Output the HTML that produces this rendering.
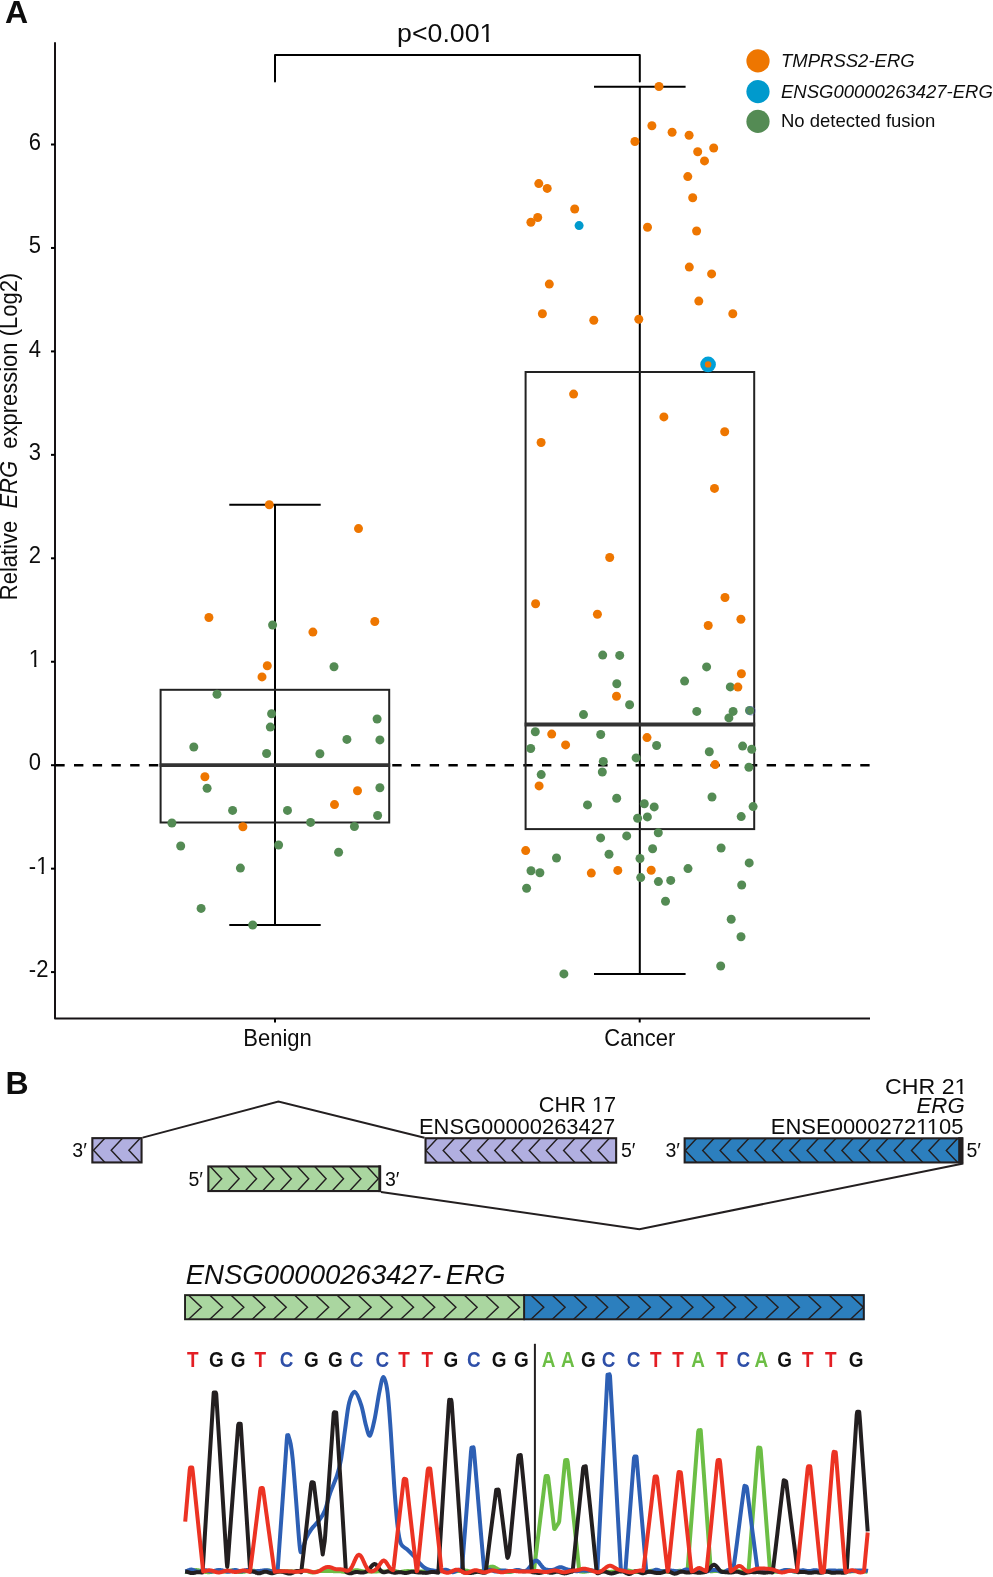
<!DOCTYPE html>
<html><head><meta charset="utf-8"><title>ERG expression figure</title>
<style>
html,body{margin:0;padding:0;background:#fff;}
body{width:993px;height:1577px;overflow:hidden;}
svg{display:block;will-change:transform;}
text{font-family:"Liberation Sans",sans-serif;}
</style></head>
<body>
<svg width="993" height="1577" viewBox="0 0 993 1577" fill="#0d0d0d">
<text x="5" y="22.8" font-size="32" font-weight="bold">A</text>
<path d="M55,42.3 V1018.4 H870" fill="none" stroke="#161214" stroke-width="2" stroke-linejoin="round"/>
<line x1="51" y1="972.10" x2="55" y2="972.10" stroke="#000" stroke-width="2"/>
<g transform="translate(28.8,977.20) scale(0.95,1)"><text id="tick-2" font-size="23.2">-2</text></g>
<line x1="51" y1="868.65" x2="55" y2="868.65" stroke="#000" stroke-width="2"/>
<g transform="translate(28.8,873.75) scale(0.95,1)"><text id="tick-1" font-size="23.2">-1</text><rect x="8.50" y="-2.18" width="4.91" height="3.38" fill="#fff"/><rect x="15.73" y="-2.18" width="4.44" height="3.38" fill="#fff"/></g>
<line x1="51" y1="765.20" x2="55" y2="765.20" stroke="#000" stroke-width="2"/>
<g transform="translate(28.8,770.30) scale(0.95,1)"><text id="tick0" font-size="23.2">0</text></g>
<line x1="51" y1="661.75" x2="55" y2="661.75" stroke="#000" stroke-width="2"/>
<g transform="translate(28.8,666.85) scale(0.95,1)"><text id="tick1" font-size="23.2">1</text><rect x="0.79" y="-2.18" width="4.90" height="3.38" fill="#fff"/><rect x="8.02" y="-2.18" width="4.44" height="3.38" fill="#fff"/></g>
<line x1="51" y1="558.30" x2="55" y2="558.30" stroke="#000" stroke-width="2"/>
<g transform="translate(28.8,563.40) scale(0.95,1)"><text id="tick2" font-size="23.2">2</text></g>
<line x1="51" y1="454.85" x2="55" y2="454.85" stroke="#000" stroke-width="2"/>
<g transform="translate(28.8,459.95) scale(0.95,1)"><text id="tick3" font-size="23.2">3</text></g>
<line x1="51" y1="351.40" x2="55" y2="351.40" stroke="#000" stroke-width="2"/>
<g transform="translate(28.8,356.50) scale(0.95,1)"><text id="tick4" font-size="23.2">4</text></g>
<line x1="51" y1="247.95" x2="55" y2="247.95" stroke="#000" stroke-width="2"/>
<g transform="translate(28.8,253.05) scale(0.95,1)"><text id="tick5" font-size="23.2">5</text></g>
<line x1="51" y1="144.50" x2="55" y2="144.50" stroke="#000" stroke-width="2"/>
<g transform="translate(28.8,149.60) scale(0.95,1)"><text id="tick6" font-size="23.2">6</text></g>
<line x1="275" y1="1018.5" x2="275" y2="1022.5" stroke="#000" stroke-width="2"/>
<line x1="639.7" y1="1018.5" x2="639.7" y2="1022.5" stroke="#000" stroke-width="2"/>
<text transform="translate(277.5,1045.8) scale(0.95,1)" font-size="23.2" text-anchor="middle">Benign</text>
<text transform="translate(639.8,1045.8) scale(0.95,1)" font-size="23.2" text-anchor="middle">Cancer</text>
<text transform="translate(16.7,436.5) rotate(-90) scale(0.94,1)" font-size="23.4" text-anchor="middle" xml:space="preserve">Relative  <tspan font-style="italic">ERG</tspan>  expression (Log2)</text>
<path d="M275,81.4 V54.9 H639.8 V81.4" fill="none" stroke="#000" stroke-width="2" stroke-linejoin="round" stroke-linecap="round"/>
<text id="pval" x="397.08" y="42.3" font-size="26.3" textLength="97.31" lengthAdjust="spacingAndGlyphs">p&lt;0.001</text><rect x="480.43" y="39.89" width="5.65" height="3.61" fill="#fff"/><rect x="488.76" y="39.89" width="5.12" height="3.61" fill="#fff"/>
<circle cx="758" cy="60.9" r="11.6" fill="#EE7600"/>
<text x="781" y="66.9" font-size="18.5" font-style="italic">TMPRSS2-ERG</text>
<circle cx="758" cy="91.6" r="11.6" fill="#009ACD"/>
<text x="781" y="97.6" font-size="18.5" font-style="italic">ENSG00000263427-ERG</text>
<circle cx="758" cy="121.4" r="11.6" fill="#548B54"/>
<text x="781" y="127.4" font-size="18.5">No detected fusion</text>
<line x1="55.3" y1="765.3" x2="870" y2="765.3" stroke="#000" stroke-width="2.4" stroke-dasharray="9.36 9.36"/>
<line x1="275" y1="504.7" x2="275" y2="925" stroke="#000" stroke-width="2"/>
<line x1="229.3" y1="504.7" x2="320.7" y2="504.7" stroke="#000" stroke-width="2"/>
<line x1="229.3" y1="925" x2="320.7" y2="925" stroke="#000" stroke-width="2"/>
<rect x="160.6" y="689.8" width="228.6" height="132.70000000000005" fill="none" stroke="#222" stroke-width="2"/>
<line x1="159.6" y1="765.1" x2="390.2" y2="765.1" stroke="#333" stroke-width="3.6"/>
<line x1="639.8" y1="86.8" x2="639.8" y2="973.9" stroke="#000" stroke-width="2"/>
<line x1="594" y1="86.8" x2="685.6" y2="86.8" stroke="#000" stroke-width="2"/>
<line x1="594" y1="973.9" x2="685.6" y2="973.9" stroke="#000" stroke-width="2"/>
<rect x="525.6" y="372" width="228.60000000000002" height="457.1" fill="none" stroke="#222" stroke-width="2"/>
<line x1="524.6" y1="724.6" x2="755.2" y2="724.6" stroke="#333" stroke-width="4"/>
<circle cx="272.6" cy="625" r="4.5" fill="#548B54"/>
<circle cx="334" cy="666.8" r="4.5" fill="#548B54"/>
<circle cx="217" cy="694.3" r="4.5" fill="#548B54"/>
<circle cx="271.6" cy="713.7" r="4.5" fill="#548B54"/>
<circle cx="270.3" cy="727.1" r="4.5" fill="#548B54"/>
<circle cx="193.8" cy="747" r="4.5" fill="#548B54"/>
<circle cx="266.6" cy="753.5" r="4.5" fill="#548B54"/>
<circle cx="319.9" cy="753.8" r="4.5" fill="#548B54"/>
<circle cx="346.9" cy="739.4" r="4.5" fill="#548B54"/>
<circle cx="377.1" cy="719" r="4.5" fill="#548B54"/>
<circle cx="379.9" cy="739.9" r="4.5" fill="#548B54"/>
<circle cx="207.1" cy="788.3" r="4.5" fill="#548B54"/>
<circle cx="232.6" cy="810.4" r="4.5" fill="#548B54"/>
<circle cx="171.9" cy="823" r="4.5" fill="#548B54"/>
<circle cx="287.5" cy="810.4" r="4.5" fill="#548B54"/>
<circle cx="379.9" cy="787.8" r="4.5" fill="#548B54"/>
<circle cx="377.6" cy="815.5" r="4.5" fill="#548B54"/>
<circle cx="310.6" cy="822.4" r="4.5" fill="#548B54"/>
<circle cx="354.4" cy="826.5" r="4.5" fill="#548B54"/>
<circle cx="180.7" cy="846" r="4.5" fill="#548B54"/>
<circle cx="278.6" cy="845" r="4.5" fill="#548B54"/>
<circle cx="338.6" cy="852.3" r="4.5" fill="#548B54"/>
<circle cx="240.4" cy="868.1" r="4.5" fill="#548B54"/>
<circle cx="201.1" cy="908.4" r="4.5" fill="#548B54"/>
<circle cx="252.7" cy="925" r="4.5" fill="#548B54"/>
<circle cx="602.7" cy="655.1" r="4.5" fill="#548B54"/>
<circle cx="619.7" cy="655.4" r="4.5" fill="#548B54"/>
<circle cx="706.6" cy="666.9" r="4.5" fill="#548B54"/>
<circle cx="684.6" cy="681.1" r="4.5" fill="#548B54"/>
<circle cx="616.8" cy="683.7" r="4.5" fill="#548B54"/>
<circle cx="730.3" cy="686.9" r="4.5" fill="#548B54"/>
<circle cx="629.6" cy="704.8" r="4.5" fill="#548B54"/>
<circle cx="583.5" cy="714.6" r="4.5" fill="#548B54"/>
<circle cx="696.8" cy="711.4" r="4.5" fill="#548B54"/>
<circle cx="733.1" cy="711.4" r="4.5" fill="#548B54"/>
<circle cx="728.9" cy="717.9" r="4.5" fill="#548B54"/>
<circle cx="749.5" cy="710.5" r="4.5" fill="#548B54"/>
<circle cx="535.3" cy="731.7" r="4.5" fill="#548B54"/>
<circle cx="530.7" cy="748.5" r="4.5" fill="#548B54"/>
<circle cx="600.7" cy="734.5" r="4.5" fill="#548B54"/>
<circle cx="603.3" cy="761.4" r="4.5" fill="#548B54"/>
<circle cx="636.1" cy="757.9" r="4.5" fill="#548B54"/>
<circle cx="656.6" cy="745.5" r="4.5" fill="#548B54"/>
<circle cx="709.3" cy="751.7" r="4.5" fill="#548B54"/>
<circle cx="742.6" cy="746.1" r="4.5" fill="#548B54"/>
<circle cx="751.7" cy="749.3" r="4.5" fill="#548B54"/>
<circle cx="748.9" cy="767.2" r="4.5" fill="#548B54"/>
<circle cx="602.3" cy="772" r="4.5" fill="#548B54"/>
<circle cx="541.2" cy="774.6" r="4.5" fill="#548B54"/>
<circle cx="616.7" cy="798.3" r="4.5" fill="#548B54"/>
<circle cx="587.5" cy="804.9" r="4.5" fill="#548B54"/>
<circle cx="637.6" cy="818.3" r="4.5" fill="#548B54"/>
<circle cx="600.6" cy="837.9" r="4.5" fill="#548B54"/>
<circle cx="626.7" cy="835.9" r="4.5" fill="#548B54"/>
<circle cx="556.5" cy="858" r="4.5" fill="#548B54"/>
<circle cx="609" cy="854.2" r="4.5" fill="#548B54"/>
<circle cx="640" cy="858.5" r="4.5" fill="#548B54"/>
<circle cx="531" cy="870.7" r="4.5" fill="#548B54"/>
<circle cx="539.9" cy="872.8" r="4.5" fill="#548B54"/>
<circle cx="712" cy="797" r="4.5" fill="#548B54"/>
<circle cx="644.3" cy="803.8" r="4.5" fill="#548B54"/>
<circle cx="654.2" cy="806.9" r="4.5" fill="#548B54"/>
<circle cx="647.4" cy="816.9" r="4.5" fill="#548B54"/>
<circle cx="753.1" cy="806.6" r="4.5" fill="#548B54"/>
<circle cx="741.2" cy="816.6" r="4.5" fill="#548B54"/>
<circle cx="658.3" cy="832.7" r="4.5" fill="#548B54"/>
<circle cx="652.6" cy="848.7" r="4.5" fill="#548B54"/>
<circle cx="721.1" cy="848" r="4.5" fill="#548B54"/>
<circle cx="749.2" cy="862.9" r="4.5" fill="#548B54"/>
<circle cx="688" cy="868.6" r="4.5" fill="#548B54"/>
<circle cx="640.7" cy="877.6" r="4.5" fill="#548B54"/>
<circle cx="526.6" cy="888.2" r="4.5" fill="#548B54"/>
<circle cx="563.9" cy="973.9" r="4.5" fill="#548B54"/>
<circle cx="658.4" cy="881.6" r="4.5" fill="#548B54"/>
<circle cx="670.7" cy="880.4" r="4.5" fill="#548B54"/>
<circle cx="741.7" cy="885" r="4.5" fill="#548B54"/>
<circle cx="665.5" cy="901.2" r="4.5" fill="#548B54"/>
<circle cx="731.2" cy="919.2" r="4.5" fill="#548B54"/>
<circle cx="741" cy="936.8" r="4.5" fill="#548B54"/>
<circle cx="720.7" cy="966" r="4.5" fill="#548B54"/>
<circle cx="269.3" cy="504.7" r="4.5" fill="#EE7600"/>
<circle cx="358.5" cy="528.6" r="4.5" fill="#EE7600"/>
<circle cx="208.9" cy="617.5" r="4.5" fill="#EE7600"/>
<circle cx="312.9" cy="632.1" r="4.5" fill="#EE7600"/>
<circle cx="374.8" cy="621.5" r="4.5" fill="#EE7600"/>
<circle cx="267.3" cy="665.8" r="4.5" fill="#EE7600"/>
<circle cx="262" cy="676.9" r="4.5" fill="#EE7600"/>
<circle cx="204.9" cy="776.7" r="4.5" fill="#EE7600"/>
<circle cx="334.5" cy="804.6" r="4.5" fill="#EE7600"/>
<circle cx="357.5" cy="790.8" r="4.5" fill="#EE7600"/>
<circle cx="242.9" cy="826.8" r="4.5" fill="#EE7600"/>
<circle cx="659" cy="86.5" r="4.5" fill="#EE7600"/>
<circle cx="651.9" cy="125.8" r="4.5" fill="#EE7600"/>
<circle cx="634.9" cy="141.5" r="4.5" fill="#EE7600"/>
<circle cx="672.1" cy="132.3" r="4.5" fill="#EE7600"/>
<circle cx="689.1" cy="135.2" r="4.5" fill="#EE7600"/>
<circle cx="697.7" cy="151.7" r="4.5" fill="#EE7600"/>
<circle cx="713.7" cy="148" r="4.5" fill="#EE7600"/>
<circle cx="704.5" cy="160.9" r="4.5" fill="#EE7600"/>
<circle cx="687.8" cy="176.6" r="4.5" fill="#EE7600"/>
<circle cx="692.7" cy="197.8" r="4.5" fill="#EE7600"/>
<circle cx="538.8" cy="183.6" r="4.5" fill="#EE7600"/>
<circle cx="547.2" cy="188.4" r="4.5" fill="#EE7600"/>
<circle cx="574.7" cy="209" r="4.5" fill="#EE7600"/>
<circle cx="537.7" cy="217.5" r="4.5" fill="#EE7600"/>
<circle cx="530.9" cy="222.2" r="4.5" fill="#EE7600"/>
<circle cx="647.5" cy="227.2" r="4.5" fill="#EE7600"/>
<circle cx="696.6" cy="231" r="4.5" fill="#EE7600"/>
<circle cx="689.3" cy="267.1" r="4.5" fill="#EE7600"/>
<circle cx="711.6" cy="273.9" r="4.5" fill="#EE7600"/>
<circle cx="549.3" cy="284.1" r="4.5" fill="#EE7600"/>
<circle cx="698.8" cy="301.1" r="4.5" fill="#EE7600"/>
<circle cx="542.4" cy="313.7" r="4.5" fill="#EE7600"/>
<circle cx="593.8" cy="320.3" r="4.5" fill="#EE7600"/>
<circle cx="638.8" cy="319.2" r="4.5" fill="#EE7600"/>
<circle cx="732.8" cy="313.7" r="4.5" fill="#EE7600"/>
<circle cx="573.6" cy="394.1" r="4.5" fill="#EE7600"/>
<circle cx="541.1" cy="442.5" r="4.5" fill="#EE7600"/>
<circle cx="663.9" cy="416.9" r="4.5" fill="#EE7600"/>
<circle cx="724.7" cy="431.8" r="4.5" fill="#EE7600"/>
<circle cx="714.5" cy="488.4" r="4.5" fill="#EE7600"/>
<circle cx="609.7" cy="557.5" r="4.5" fill="#EE7600"/>
<circle cx="535.6" cy="603.8" r="4.5" fill="#EE7600"/>
<circle cx="597.4" cy="614.3" r="4.5" fill="#EE7600"/>
<circle cx="725" cy="597.5" r="4.5" fill="#EE7600"/>
<circle cx="740.9" cy="619.3" r="4.5" fill="#EE7600"/>
<circle cx="708.2" cy="625.5" r="4.5" fill="#EE7600"/>
<circle cx="741.4" cy="673.7" r="4.5" fill="#EE7600"/>
<circle cx="737.9" cy="687.1" r="4.5" fill="#EE7600"/>
<circle cx="616.5" cy="696.2" r="4.5" fill="#EE7600"/>
<circle cx="551.7" cy="734.1" r="4.5" fill="#EE7600"/>
<circle cx="565.6" cy="744.9" r="4.5" fill="#EE7600"/>
<circle cx="647" cy="737.6" r="4.5" fill="#EE7600"/>
<circle cx="715.1" cy="764.6" r="4.5" fill="#EE7600"/>
<circle cx="539.1" cy="785.9" r="4.5" fill="#EE7600"/>
<circle cx="525.7" cy="850.6" r="4.5" fill="#EE7600"/>
<circle cx="591.3" cy="873.1" r="4.5" fill="#EE7600"/>
<circle cx="617.8" cy="870.4" r="4.5" fill="#EE7600"/>
<circle cx="651.2" cy="870.2" r="4.5" fill="#EE7600"/>
<circle cx="579.1" cy="225.6" r="4.5" fill="#009ACD"/>
<circle cx="708.1" cy="364.4" r="7.8" fill="#00A0D8"/>
<circle cx="708.1" cy="364.4" r="3.2" fill="#EE7600"/>
<circle cx="750.9" cy="710.8" r="4.3" fill="none" stroke="#4a62c0" stroke-width="0.7" opacity="0.7"/>
<text x="5.5" y="1093.7" font-size="32" font-weight="bold">B</text>
<polyline points="142.6,1137.6 278.4,1101.5 424.5,1137.8" fill="none" stroke="#231F20" stroke-width="2"/>
<polyline points="381,1192 639.4,1229.2 963.3,1163.4" fill="none" stroke="#231F20" stroke-width="2"/>
<rect x="92.35" y="1138.1499999999999" width="49.199999999999996" height="24.30000000000009" fill="#B1AFE0"/>
<clipPath id="c191"><rect x="92.35" y="1138.1499999999999" width="49.199999999999996" height="24.30000000000009"/></clipPath>
<path d="M106.80,1136.10 L93.50,1150.30 L106.80,1164.50 M124.50,1136.10 L111.20,1150.30 L124.50,1164.50 M142.20,1136.10 L128.90,1150.30 L142.20,1164.50 " fill="none" stroke="#231F20" stroke-width="1.45" clip-path="url(#c191)"/>
<rect x="92.35" y="1138.1499999999999" width="49.199999999999996" height="24.30000000000009" fill="none" stroke="#231F20" stroke-width="2.1"/>
<rect x="425.55" y="1138.25" width="190.60000000000005" height="24.4" fill="#B1AFE0"/>
<clipPath id="c195"><rect x="425.55" y="1138.25" width="190.60000000000005" height="24.4"/></clipPath>
<path d="M439.30,1136.20 L426.00,1150.45 L439.30,1164.70 M456.50,1136.20 L443.20,1150.45 L456.50,1164.70 M473.70,1136.20 L460.40,1150.45 L473.70,1164.70 M490.90,1136.20 L477.60,1150.45 L490.90,1164.70 M508.10,1136.20 L494.80,1150.45 L508.10,1164.70 M525.30,1136.20 L512.00,1150.45 L525.30,1164.70 M542.50,1136.20 L529.20,1150.45 L542.50,1164.70 M559.70,1136.20 L546.40,1150.45 L559.70,1164.70 M576.90,1136.20 L563.60,1150.45 L576.90,1164.70 M594.10,1136.20 L580.80,1150.45 L594.10,1164.70 M611.30,1136.20 L598.00,1150.45 L611.30,1164.70 " fill="none" stroke="#231F20" stroke-width="1.45" clip-path="url(#c195)"/>
<rect x="425.55" y="1138.25" width="190.60000000000005" height="24.4" fill="none" stroke="#231F20" stroke-width="2.1"/>
<rect x="208.35000000000002" y="1166.45" width="171.70000000000002" height="24.599999999999817" fill="#AAD6A0"/>
<clipPath id="c199"><rect x="208.35000000000002" y="1166.45" width="171.70000000000002" height="24.599999999999817"/></clipPath>
<path d="M208.40,1164.40 L221.70,1178.75 L208.40,1193.10 M225.80,1164.40 L239.10,1178.75 L225.80,1193.10 M243.20,1164.40 L256.50,1178.75 L243.20,1193.10 M260.60,1164.40 L273.90,1178.75 L260.60,1193.10 M278.00,1164.40 L291.30,1178.75 L278.00,1193.10 M295.40,1164.40 L308.70,1178.75 L295.40,1193.10 M312.80,1164.40 L326.10,1178.75 L312.80,1193.10 M330.20,1164.40 L343.50,1178.75 L330.20,1193.10 M347.60,1164.40 L360.90,1178.75 L347.60,1193.10 M365.00,1164.40 L378.30,1178.75 L365.00,1193.10 " fill="none" stroke="#231F20" stroke-width="1.45" clip-path="url(#c199)"/>
<rect x="208.35000000000002" y="1166.45" width="171.70000000000002" height="24.599999999999817" fill="none" stroke="#231F20" stroke-width="2.1"/>
<rect x="378.3" y="1165.4" width="2.8000000000000114" height="26.699999999999818" fill="#231F20"/>
<rect x="684.65" y="1138.35" width="277.5999999999999" height="24.100000000000044" fill="#2C7FBE"/>
<clipPath id="c204"><rect x="684.65" y="1138.35" width="277.5999999999999" height="24.100000000000044"/></clipPath>
<path d="M698.60,1136.30 L685.30,1150.40 L698.60,1164.50 M716.00,1136.30 L702.70,1150.40 L716.00,1164.50 M733.40,1136.30 L720.10,1150.40 L733.40,1164.50 M750.80,1136.30 L737.50,1150.40 L750.80,1164.50 M768.20,1136.30 L754.90,1150.40 L768.20,1164.50 M785.60,1136.30 L772.30,1150.40 L785.60,1164.50 M803.00,1136.30 L789.70,1150.40 L803.00,1164.50 M820.40,1136.30 L807.10,1150.40 L820.40,1164.50 M837.80,1136.30 L824.50,1150.40 L837.80,1164.50 M855.20,1136.30 L841.90,1150.40 L855.20,1164.50 M872.60,1136.30 L859.30,1150.40 L872.60,1164.50 M890.00,1136.30 L876.70,1150.40 L890.00,1164.50 M907.40,1136.30 L894.10,1150.40 L907.40,1164.50 M924.80,1136.30 L911.50,1150.40 L924.80,1164.50 M942.20,1136.30 L928.90,1150.40 L942.20,1164.50 M959.60,1136.30 L946.30,1150.40 L959.60,1164.50 " fill="none" stroke="#231F20" stroke-width="1.45" clip-path="url(#c204)"/>
<rect x="684.65" y="1138.35" width="277.5999999999999" height="24.100000000000044" fill="none" stroke="#231F20" stroke-width="2.1"/>
<rect x="958.2" y="1137.3" width="5.099999999999909" height="26.200000000000045" fill="#231F20"/>
<text id="chr17" x="538.84" y="1111.5" font-size="21.5" textLength="77.23" lengthAdjust="spacingAndGlyphs" xml:space="preserve">CHR 17</text><rect x="592.65" y="1109.44" width="4.60" height="3.26" fill="#fff"/><rect x="599.42" y="1109.44" width="4.16" height="3.26" fill="#fff"/>
<text id="ensg" x="418.98" y="1133.6" font-size="21.5" textLength="196.15" lengthAdjust="spacingAndGlyphs" xml:space="preserve">ENSG00000263427</text>
<text id="chr21" x="885.08" y="1093.5" font-size="21.5" textLength="82.39" lengthAdjust="spacingAndGlyphs" xml:space="preserve">CHR 21</text><rect x="955.37" y="1091.44" width="4.90" height="3.26" fill="#fff"/><rect x="962.59" y="1091.44" width="4.44" height="3.26" fill="#fff"/>
<text id="erg" x="916.52" y="1112.6" font-size="21.5" textLength="48.15" lengthAdjust="spacingAndGlyphs" xml:space="preserve" font-style="italic">ERG</text>
<text id="ense" x="770.84" y="1133.7" font-size="21.5" textLength="192.63" lengthAdjust="spacingAndGlyphs" xml:space="preserve">ENSE00002721105</text><rect x="916.95" y="1131.64" width="4.65" height="3.26" fill="#fff"/><rect x="923.81" y="1131.64" width="4.21" height="3.26" fill="#fff"/><rect x="927.56" y="1131.64" width="4.65" height="3.26" fill="#fff"/><rect x="934.41" y="1131.64" width="4.21" height="3.26" fill="#fff"/>
<text id="fus" x="185.72" y="1284.0" font-size="28" textLength="319.80" lengthAdjust="spacingAndGlyphs" xml:space="preserve" font-style="italic">ENSG00000263427- ERG</text>
<text transform="translate(86.8,1157.2) scale(0.93,1)" font-size="21" text-anchor="end">3′</text>
<text transform="translate(203,1185.8) scale(0.93,1)" font-size="21" text-anchor="end">5′</text>
<text transform="translate(385,1185.8) scale(0.93,1)" font-size="21">3′</text>
<text transform="translate(621,1157.2) scale(0.93,1)" font-size="21">5′</text>
<text transform="translate(680,1157.2) scale(0.93,1)" font-size="21" text-anchor="end">3′</text>
<text transform="translate(966.5,1157.2) scale(0.93,1)" font-size="21">5′</text>
<rect x="184.1" y="1294.2" width="339.9" height="26.0" fill="#AAD6A0"/>
<rect x="524" y="1294.2" width="340.70000000000005" height="26.0" fill="#2C7FBE"/>
<clipPath id="fz"><rect x="185" y="1295.15" width="678.7" height="24.1"/></clipPath>
<path d="M187.60,1294.20 L201.40,1307.20 L187.60,1320.20 M208.81,1294.20 L222.61,1307.20 L208.81,1320.20 M230.02,1294.20 L243.82,1307.20 L230.02,1320.20 M251.23,1294.20 L265.03,1307.20 L251.23,1320.20 M272.44,1294.20 L286.24,1307.20 L272.44,1320.20 M293.65,1294.20 L307.45,1307.20 L293.65,1320.20 M314.86,1294.20 L328.66,1307.20 L314.86,1320.20 M336.07,1294.20 L349.87,1307.20 L336.07,1320.20 M357.28,1294.20 L371.08,1307.20 L357.28,1320.20 M378.49,1294.20 L392.29,1307.20 L378.49,1320.20 M399.70,1294.20 L413.50,1307.20 L399.70,1320.20 M420.91,1294.20 L434.71,1307.20 L420.91,1320.20 M442.12,1294.20 L455.92,1307.20 L442.12,1320.20 M463.33,1294.20 L477.13,1307.20 L463.33,1320.20 M484.54,1294.20 L498.34,1307.20 L484.54,1320.20 M505.75,1294.20 L519.55,1307.20 L505.75,1320.20 M530.00,1294.20 L543.80,1307.20 L530.00,1320.20 M551.30,1294.20 L565.10,1307.20 L551.30,1320.20 M572.60,1294.20 L586.40,1307.20 L572.60,1320.20 M593.90,1294.20 L607.70,1307.20 L593.90,1320.20 M615.20,1294.20 L629.00,1307.20 L615.20,1320.20 M636.50,1294.20 L650.30,1307.20 L636.50,1320.20 M657.80,1294.20 L671.60,1307.20 L657.80,1320.20 M679.10,1294.20 L692.90,1307.20 L679.10,1320.20 M700.40,1294.20 L714.20,1307.20 L700.40,1320.20 M721.70,1294.20 L735.50,1307.20 L721.70,1320.20 M743.00,1294.20 L756.80,1307.20 L743.00,1320.20 M764.30,1294.20 L778.10,1307.20 L764.30,1320.20 M785.60,1294.20 L799.40,1307.20 L785.60,1320.20 M806.90,1294.20 L820.70,1307.20 L806.90,1320.20 M828.20,1294.20 L842.00,1307.20 L828.20,1320.20 M849.50,1294.20 L863.30,1307.20 L849.50,1320.20 " fill="none" stroke="#231F20" stroke-width="1.45" clip-path="url(#fz)"/>
<rect x="185.04999999999998" y="1295.15" width="678.7" height="24.1" fill="none" stroke="#231F20" stroke-width="1.9"/>
<line x1="524.1" y1="1294.2" x2="524.1" y2="1320.2" stroke="#231F20" stroke-width="2"/>
<text transform="translate(192.8,1367.2) scale(0.88,1)" font-size="21.5" font-weight="bold" text-anchor="middle" fill="#E31E24">T</text>
<text transform="translate(216.3,1367.2) scale(0.88,1)" font-size="21.5" font-weight="bold" text-anchor="middle" fill="#111">G</text>
<text transform="translate(238.1,1367.2) scale(0.88,1)" font-size="21.5" font-weight="bold" text-anchor="middle" fill="#111">G</text>
<text transform="translate(260.2,1367.2) scale(0.88,1)" font-size="21.5" font-weight="bold" text-anchor="middle" fill="#E31E24">T</text>
<text transform="translate(286.5,1367.2) scale(0.88,1)" font-size="21.5" font-weight="bold" text-anchor="middle" fill="#2E4FA8">C</text>
<text transform="translate(311.3,1367.2) scale(0.88,1)" font-size="21.5" font-weight="bold" text-anchor="middle" fill="#111">G</text>
<text transform="translate(335.4,1367.2) scale(0.88,1)" font-size="21.5" font-weight="bold" text-anchor="middle" fill="#111">G</text>
<text transform="translate(356.5,1367.2) scale(0.88,1)" font-size="21.5" font-weight="bold" text-anchor="middle" fill="#2E4FA8">C</text>
<text transform="translate(382.3,1367.2) scale(0.88,1)" font-size="21.5" font-weight="bold" text-anchor="middle" fill="#2E4FA8">C</text>
<text transform="translate(404,1367.2) scale(0.88,1)" font-size="21.5" font-weight="bold" text-anchor="middle" fill="#E31E24">T</text>
<text transform="translate(427.2,1367.2) scale(0.88,1)" font-size="21.5" font-weight="bold" text-anchor="middle" fill="#E31E24">T</text>
<text transform="translate(450.8,1367.2) scale(0.88,1)" font-size="21.5" font-weight="bold" text-anchor="middle" fill="#111">G</text>
<text transform="translate(473.9,1367.2) scale(0.88,1)" font-size="21.5" font-weight="bold" text-anchor="middle" fill="#2E4FA8">C</text>
<text transform="translate(499.1,1367.2) scale(0.88,1)" font-size="21.5" font-weight="bold" text-anchor="middle" fill="#111">G</text>
<text transform="translate(521.3,1367.2) scale(0.88,1)" font-size="21.5" font-weight="bold" text-anchor="middle" fill="#111">G</text>
<text transform="translate(548.5,1367.2) scale(0.88,1)" font-size="21.5" font-weight="bold" text-anchor="middle" fill="#6CBE45">A</text>
<text transform="translate(567.9,1367.2) scale(0.88,1)" font-size="21.5" font-weight="bold" text-anchor="middle" fill="#6CBE45">A</text>
<text transform="translate(588.4,1367.2) scale(0.88,1)" font-size="21.5" font-weight="bold" text-anchor="middle" fill="#111">G</text>
<text transform="translate(608.5,1367.2) scale(0.88,1)" font-size="21.5" font-weight="bold" text-anchor="middle" fill="#2E4FA8">C</text>
<text transform="translate(633.7,1367.2) scale(0.88,1)" font-size="21.5" font-weight="bold" text-anchor="middle" fill="#2E4FA8">C</text>
<text transform="translate(655.9,1367.2) scale(0.88,1)" font-size="21.5" font-weight="bold" text-anchor="middle" fill="#E31E24">T</text>
<text transform="translate(678,1367.2) scale(0.88,1)" font-size="21.5" font-weight="bold" text-anchor="middle" fill="#E31E24">T</text>
<text transform="translate(698.2,1367.2) scale(0.88,1)" font-size="21.5" font-weight="bold" text-anchor="middle" fill="#6CBE45">A</text>
<text transform="translate(722,1367.2) scale(0.88,1)" font-size="21.5" font-weight="bold" text-anchor="middle" fill="#E31E24">T</text>
<text transform="translate(743.3,1367.2) scale(0.88,1)" font-size="21.5" font-weight="bold" text-anchor="middle" fill="#2E4FA8">C</text>
<text transform="translate(761.4,1367.2) scale(0.88,1)" font-size="21.5" font-weight="bold" text-anchor="middle" fill="#6CBE45">A</text>
<text transform="translate(784.6,1367.2) scale(0.88,1)" font-size="21.5" font-weight="bold" text-anchor="middle" fill="#111">G</text>
<text transform="translate(807.8,1367.2) scale(0.88,1)" font-size="21.5" font-weight="bold" text-anchor="middle" fill="#E31E24">T</text>
<text transform="translate(830.9,1367.2) scale(0.88,1)" font-size="21.5" font-weight="bold" text-anchor="middle" fill="#E31E24">T</text>
<text transform="translate(856.1,1367.2) scale(0.88,1)" font-size="21.5" font-weight="bold" text-anchor="middle" fill="#111">G</text>
<line x1="534.9" y1="1343.8" x2="534.9" y2="1574" stroke="#231F20" stroke-width="2"/>
<polyline points="185.2,1571.8 185.7,1571.9 186.2,1572.0 186.7,1572.0 187.2,1572.1 187.7,1572.1 188.2,1572.0 188.7,1572.0 189.2,1571.9 189.7,1571.8 190.2,1571.6 190.7,1571.5 191.2,1571.3 191.7,1571.1 192.2,1571.0 192.7,1570.8 193.2,1570.6 193.7,1570.5 194.2,1570.4 194.7,1570.3 195.2,1570.2 195.7,1570.1 196.2,1570.1 196.7,1570.1 197.2,1570.2 197.7,1570.2 198.2,1570.3 198.7,1570.4 199.2,1570.5 199.7,1570.7 200.2,1570.8 200.7,1570.9 201.2,1571.1 201.7,1571.2 202.2,1571.3 202.7,1571.5 203.2,1571.6 203.7,1571.7 204.2,1571.8 204.7,1571.8 205.2,1571.9 205.7,1572.0 206.2,1572.1 206.7,1572.1 207.2,1572.1 207.7,1572.2 208.2,1572.2 208.7,1572.2 209.2,1572.2 209.7,1572.1 210.2,1572.1 210.7,1572.0 211.2,1572.0 211.7,1571.9 212.2,1571.8 212.7,1571.7 213.2,1571.5 213.7,1571.4 214.2,1571.3 214.7,1571.2 215.2,1571.0 215.7,1570.9 216.2,1570.9 216.7,1570.8 217.2,1570.7 217.7,1570.7 218.2,1570.7 218.7,1570.8 219.2,1570.8 219.7,1570.9 220.2,1571.0 220.7,1571.0 221.2,1571.1 221.7,1571.2 222.2,1571.3 222.7,1571.4 223.2,1571.5 223.7,1571.6 224.2,1571.6 224.7,1571.6 225.2,1571.6 225.7,1571.5 226.2,1571.5 226.7,1571.4 227.2,1571.3 227.7,1571.2 228.2,1571.1 228.7,1570.9 229.2,1570.8 229.7,1570.7 230.2,1570.6 230.7,1570.6 231.2,1570.6 231.7,1570.5 232.2,1570.6 232.7,1570.6 233.2,1570.7 233.7,1570.8 234.2,1570.9 234.7,1571.0 235.2,1571.2 235.7,1571.3 236.2,1571.5 236.7,1571.6 237.2,1571.7 237.7,1571.8 238.2,1571.9 238.7,1572.0 239.2,1572.1 239.7,1572.1 240.2,1572.1 240.7,1572.1 241.2,1572.1 241.7,1572.0 242.2,1572.0 242.7,1571.9 243.2,1571.8 243.7,1571.7 244.2,1571.7 244.7,1571.6 245.2,1571.5 245.7,1571.4 246.2,1571.3 246.7,1571.3 247.2,1571.2 247.7,1571.1 248.2,1571.1 248.7,1571.0 249.2,1571.0 249.7,1570.9 250.2,1570.9 250.7,1570.8 251.2,1570.8 251.7,1570.8 252.2,1570.8 252.7,1570.8 253.2,1570.8 253.7,1570.8 254.2,1570.8 254.7,1570.9 255.2,1571.0 255.7,1571.1 256.2,1571.2 256.7,1571.3 257.2,1571.4 257.7,1571.5 258.2,1571.6 258.7,1571.7 259.2,1571.8 259.7,1571.8 260.2,1571.9 260.7,1571.9 261.2,1571.9 261.7,1571.9 262.2,1571.8 262.7,1571.7 263.2,1571.6 263.7,1571.5 264.2,1571.4 264.7,1571.2 265.2,1571.1 265.7,1571.0 266.2,1570.8 266.7,1570.7 267.2,1570.7 267.7,1570.6 268.2,1570.6 268.7,1570.6 269.2,1570.6 269.7,1570.6 270.2,1570.7 270.7,1570.8 271.2,1570.9 271.7,1571.1 272.2,1571.2 272.7,1571.3 273.2,1571.5 273.7,1571.6 274.2,1571.7 274.7,1571.8 275.2,1571.9 275.7,1571.9 276.2,1571.9 276.7,1571.9 277.2,1571.9 277.7,1571.9 278.2,1571.8 278.7,1571.7 279.2,1571.6 279.7,1571.6 280.2,1571.5 280.7,1571.4 281.2,1571.3 281.7,1571.3 282.2,1571.2 282.7,1571.2 283.2,1571.2 283.7,1571.1 284.2,1571.1 284.7,1571.1 285.2,1571.2 285.7,1571.2 286.2,1571.2 286.7,1571.2 287.2,1571.2 287.7,1571.2 288.2,1571.3 288.7,1571.3 289.2,1571.3 289.7,1571.3 290.2,1571.3 290.7,1571.3 291.2,1571.3 291.7,1571.3 292.2,1571.4 292.7,1571.4 293.2,1571.4 293.7,1571.4 294.2,1571.4 294.7,1571.4 295.2,1571.4 295.7,1571.4 296.2,1571.4 296.7,1571.4 297.2,1571.4 297.7,1571.3 298.2,1571.3 298.7,1571.2 299.2,1571.1 299.7,1571.1 300.2,1571.0 300.7,1570.9 301.2,1570.8 301.7,1570.7 302.2,1570.6 302.7,1570.6 303.2,1570.5 303.7,1570.5 304.2,1570.5 304.7,1570.5 305.2,1570.6 305.7,1570.7 306.2,1570.8 306.7,1570.9 307.2,1571.1 307.7,1571.2 308.2,1571.4 308.7,1571.6 309.2,1571.8 309.7,1571.9 310.2,1572.1 310.7,1572.2 311.2,1572.3 311.7,1572.4 312.2,1572.4 312.7,1572.4 313.2,1572.4 313.7,1572.3 314.2,1572.3 314.7,1572.2 315.2,1572.0 315.7,1571.9 316.2,1571.8 316.7,1571.6 317.2,1571.5 317.7,1571.3 318.2,1571.2 318.7,1571.1 319.2,1571.0 319.7,1571.0 320.2,1570.9 320.7,1570.9 321.2,1570.9 321.7,1570.9 322.2,1570.9 322.7,1570.9 323.2,1570.9 323.7,1570.9 324.2,1570.9 324.7,1570.9 325.2,1571.0 325.7,1571.0 326.2,1571.0 326.7,1571.0 327.2,1571.0 327.7,1571.0 328.2,1571.0 328.7,1571.0 329.2,1571.0 329.7,1571.0 330.2,1571.0 330.7,1571.0 331.2,1571.0 331.7,1571.1 332.2,1571.1 332.7,1571.1 333.2,1571.1 333.7,1571.2 334.2,1571.2 334.7,1571.2 335.2,1571.2 335.7,1571.3 336.2,1571.3 336.7,1571.3 337.2,1571.3 337.7,1571.3 338.2,1571.3 338.7,1571.3 339.2,1571.3 339.7,1571.3 340.2,1571.3 340.7,1571.3 341.2,1571.4 341.7,1571.4 342.2,1571.5 342.7,1571.6 343.2,1571.7 343.7,1571.7 344.2,1571.8 344.7,1571.9 345.2,1572.0 345.7,1572.1 346.2,1572.2 346.7,1572.2 347.2,1572.3 347.7,1572.3 348.2,1572.2 348.7,1572.2 349.2,1572.1 349.7,1572.0 350.2,1571.9 350.7,1571.7 351.2,1571.5 351.7,1571.4 352.2,1571.2 352.7,1571.0 353.2,1570.8 353.7,1570.7 354.2,1570.5 354.7,1570.4 355.2,1570.3 355.7,1570.3 356.2,1570.2 356.7,1570.2 357.2,1570.2 357.7,1570.3 358.2,1570.4 358.7,1570.5 359.2,1570.6 359.7,1570.7 360.2,1570.8 360.7,1570.9 361.2,1571.0 361.7,1571.2 362.2,1571.3 362.7,1571.3 363.2,1571.4 363.7,1571.5 364.2,1571.5 364.7,1571.5 365.2,1571.6 365.7,1571.6 366.2,1571.6 366.7,1571.6 367.2,1571.6 367.7,1571.6 368.2,1571.6 368.7,1571.6 369.2,1571.6 369.7,1571.6 370.2,1571.6 370.7,1571.6 371.2,1571.6 371.7,1571.6 372.2,1571.6 372.7,1571.6 373.2,1571.6 373.7,1571.6 374.2,1571.6 374.7,1571.5 375.2,1571.5 375.7,1571.5 376.2,1571.4 376.7,1571.4 377.2,1571.4 377.7,1571.3 378.2,1571.3 378.7,1571.3 379.2,1571.3 379.7,1571.3 380.2,1571.3 380.7,1571.3 381.2,1571.4 381.7,1571.4 382.2,1571.4 382.7,1571.5 383.2,1571.5 383.7,1571.5 384.2,1571.5 384.7,1571.5 385.2,1571.5 385.7,1571.4 386.2,1571.4 386.7,1571.3 387.2,1571.2 387.7,1571.1 388.2,1571.0 388.7,1570.9 389.2,1570.8 389.7,1570.7 390.2,1570.7 390.7,1570.6 391.2,1570.6 391.7,1570.5 392.2,1570.6 392.7,1570.6 393.2,1570.7 393.7,1570.7 394.2,1570.8 394.7,1571.0 395.2,1571.1 395.7,1571.2 396.2,1571.3 396.7,1571.5 397.2,1571.6 397.7,1571.7 398.2,1571.8 398.7,1571.9 399.2,1571.9 399.7,1571.9 400.2,1571.9 400.7,1571.9 401.2,1571.9 401.7,1571.8 402.2,1571.7 402.7,1571.6 403.2,1571.6 403.7,1571.5 404.2,1571.4 404.7,1571.3 405.2,1571.2 405.7,1571.2 406.2,1571.2 406.7,1571.1 407.2,1571.1 407.7,1571.1 408.2,1571.1 408.7,1571.1 409.2,1571.1 409.7,1571.2 410.2,1571.2 410.7,1571.2 411.2,1571.2 411.7,1571.2 412.2,1571.3 412.7,1571.3 413.2,1571.3 413.7,1571.3 414.2,1571.3 414.7,1571.3 415.2,1571.3 415.7,1571.3 416.2,1571.3 416.7,1571.4 417.2,1571.4 417.7,1571.4 418.2,1571.5 418.7,1571.5 419.2,1571.5 419.7,1571.6 420.2,1571.6 420.7,1571.6 421.2,1571.6 421.7,1571.6 422.2,1571.6 422.7,1571.6 423.2,1571.5 423.7,1571.4 424.2,1571.4 424.7,1571.3 425.2,1571.2 425.7,1571.1 426.2,1571.0 426.7,1570.9 427.2,1570.9 427.7,1570.8 428.2,1570.8 428.7,1570.7 429.2,1570.7 429.7,1570.7 430.2,1570.8 430.7,1570.8 431.2,1570.9 431.7,1571.0 432.2,1571.1 432.7,1571.2 433.2,1571.3 433.7,1571.3 434.2,1571.4 434.7,1571.5 435.2,1571.6 435.7,1571.6 436.2,1571.6 436.7,1571.6 437.2,1571.6 437.7,1571.6 438.2,1571.5 438.7,1571.5 439.2,1571.4 439.7,1571.3 440.2,1571.3 440.7,1571.2 441.2,1571.2 441.7,1571.1 442.2,1571.1 442.7,1571.1 443.2,1571.2 443.7,1571.2 444.2,1571.2 444.7,1571.3 445.2,1571.4 445.7,1571.4 446.2,1571.5 446.7,1571.6 447.2,1571.6 447.7,1571.7 448.2,1571.7 448.7,1571.8 449.2,1571.8 449.7,1571.8 450.2,1571.8 450.7,1571.7 451.2,1571.7 451.7,1571.7 452.2,1571.6 452.7,1571.6 453.2,1571.5 453.7,1571.4 454.2,1571.4 454.7,1571.3 455.2,1571.3 455.7,1571.3 456.2,1571.2 456.7,1571.2 457.2,1571.1 457.7,1571.1 458.2,1571.1 458.7,1571.0 459.2,1571.0 459.7,1571.0 460.2,1570.9 460.7,1570.9 461.2,1570.8 461.7,1570.8 462.2,1570.7 462.7,1570.7 463.2,1570.6 463.7,1570.6 464.2,1570.6 464.7,1570.6 465.2,1570.6 465.7,1570.6 466.2,1570.7 466.7,1570.7 467.2,1570.8 467.7,1570.9 468.2,1571.1 468.7,1571.2 469.2,1571.3 469.7,1571.5 470.2,1571.6 470.7,1571.7 471.2,1571.8 471.7,1571.9 472.2,1572.0 472.7,1572.1 473.2,1572.1 473.7,1572.1 474.2,1572.1 474.7,1572.0 475.2,1572.0 475.7,1571.9 476.2,1571.8 476.7,1571.7 477.2,1571.7 477.7,1571.6 478.2,1571.5 478.7,1571.4 479.2,1571.3 479.7,1571.2 480.2,1571.1 480.7,1571.0 481.2,1571.0 481.7,1570.9 482.2,1570.8 482.7,1570.7 483.2,1570.5 483.7,1570.4 484.2,1570.2 484.7,1570.0 485.2,1569.8 485.7,1569.6 486.2,1569.3 486.7,1569.0 487.2,1568.7 487.7,1568.4 488.2,1568.1 488.7,1567.8 489.2,1567.5 489.7,1567.2 490.2,1567.0 490.7,1566.9 491.2,1566.7 491.7,1566.7 492.2,1566.6 492.7,1566.7 493.2,1566.8 493.7,1566.9 494.2,1567.1 494.7,1567.3 495.2,1567.6 495.7,1567.9 496.2,1568.2 496.7,1568.5 497.2,1568.8 497.7,1569.1 498.2,1569.3 498.7,1569.6 499.2,1569.9 499.7,1570.1 500.2,1570.3 500.7,1570.5 501.2,1570.7 501.7,1570.8 502.2,1571.0 502.7,1571.1 503.2,1571.2 503.7,1571.3 504.2,1571.5 504.7,1571.6 505.2,1571.7 505.7,1571.8 506.2,1571.8 506.7,1571.9 507.2,1572.0 507.7,1572.0 508.2,1572.1 508.7,1572.1 509.2,1572.1 509.7,1572.0 510.2,1572.0 510.7,1571.9 511.2,1571.8 511.7,1571.7 512.2,1571.6 512.7,1571.5 513.2,1571.4 513.7,1571.2 514.2,1571.1 514.7,1571.0 515.2,1570.9 515.7,1570.8 516.2,1570.7 516.7,1570.7 517.2,1570.7 517.7,1570.7 518.2,1570.7 518.7,1570.7 519.2,1570.8 519.7,1570.8 520.2,1570.9 520.7,1570.9 521.2,1571.0 521.7,1571.0 522.2,1571.1 522.7,1571.1 523.2,1571.2 523.7,1571.2 524.2,1571.2 524.7,1571.2 525.2,1571.2 525.7,1571.2 526.2,1571.1 526.7,1571.1 527.2,1571.1 527.7,1571.1 528.2,1571.1 528.7,1571.1 529.2,1571.2 529.7,1571.2 530.2,1571.2 530.7,1571.3 531.2,1571.4 531.7,1571.4 532.2,1571.5 532.7,1571.5 533.2,1571.6 533.7,1571.6 534.2,1568.4 534.7,1564.4 535.2,1560.4 535.7,1556.3 536.2,1552.3 536.7,1548.2 537.2,1544.1 537.7,1540.1 538.2,1536.0 538.7,1531.9 539.2,1527.8 539.7,1523.7 540.2,1519.6 540.7,1515.6 541.2,1511.5 541.7,1507.4 542.2,1503.4 542.7,1499.4 543.2,1495.4 543.7,1491.3 544.2,1487.3 544.7,1483.3 545.2,1479.3 545.7,1476.0 546.2,1476.0 546.7,1476.0 547.2,1476.0 547.7,1476.0 548.2,1477.7 548.7,1481.9 549.2,1486.1 549.7,1490.4 550.2,1494.6 550.7,1498.8 551.2,1503.1 551.7,1507.3 552.2,1511.6 552.7,1515.9 553.2,1520.2 553.7,1524.5 554.2,1528.8 554.7,1529.0 555.2,1528.2 555.7,1527.5 556.2,1526.7 556.7,1525.9 557.2,1525.2 557.7,1524.4 558.2,1523.6 558.7,1522.8 559.2,1521.2 559.7,1516.1 560.2,1510.9 560.7,1505.8 561.2,1500.6 561.7,1495.5 562.2,1490.3 562.7,1485.1 563.2,1479.9 563.7,1474.7 564.2,1469.5 564.7,1464.3 565.2,1460.2 565.7,1460.1 566.2,1460.1 566.7,1460.1 567.2,1460.1 567.7,1462.0 568.2,1466.7 568.7,1471.5 569.2,1476.2 569.7,1480.9 570.2,1485.7 570.7,1490.4 571.2,1495.2 571.7,1499.9 572.2,1504.6 572.7,1509.3 573.2,1514.0 573.7,1518.7 574.2,1523.4 574.7,1528.1 575.2,1532.8 575.7,1537.5 576.2,1542.1 576.7,1546.8 577.2,1551.5 577.7,1556.2 578.2,1561.0 578.7,1565.7 579.2,1570.4 579.7,1571.4 580.2,1571.5 580.7,1571.5 581.2,1571.6 581.7,1571.6 582.2,1571.7 582.7,1571.7 583.2,1571.7 583.7,1571.7 584.2,1571.7 584.7,1571.7 585.2,1571.6 585.7,1571.6 586.2,1571.5 586.7,1571.4 587.2,1571.3 587.7,1571.2 588.2,1571.2 588.7,1571.1 589.2,1571.0 589.7,1570.9 590.2,1570.9 590.7,1570.8 591.2,1570.8 591.7,1570.8 592.2,1570.8 592.7,1570.8 593.2,1570.9 593.7,1570.9 594.2,1571.0 594.7,1571.0 595.2,1571.1 595.7,1571.1 596.2,1571.2 596.7,1571.2 597.2,1571.2 597.7,1571.2 598.2,1571.2 598.7,1571.2 599.2,1571.2 599.7,1571.2 600.2,1571.2 600.7,1571.2 601.2,1571.1 601.7,1571.1 602.2,1571.1 602.7,1571.1 603.2,1571.2 603.7,1571.2 604.2,1571.3 604.7,1571.3 605.2,1571.4 605.7,1571.5 606.2,1571.5 606.7,1571.6 607.2,1571.7 607.7,1571.7 608.2,1571.8 608.7,1571.8 609.2,1571.9 609.7,1571.9 610.2,1571.9 610.7,1571.9 611.2,1571.8 611.7,1571.8 612.2,1571.7 612.7,1571.7 613.2,1571.6 613.7,1571.6 614.2,1571.5 614.7,1571.5 615.2,1571.4 615.7,1571.4 616.2,1571.4 616.7,1571.3 617.2,1571.3 617.7,1571.3 618.2,1571.3 618.7,1571.3 619.2,1571.3 619.7,1571.3 620.2,1571.3 620.7,1571.2 621.2,1571.2 621.7,1571.1 622.2,1571.1 622.7,1571.0 623.2,1570.9 623.7,1570.8 624.2,1570.7 624.7,1570.7 625.2,1570.6 625.7,1570.5 626.2,1570.5 626.7,1570.5 627.2,1570.5 627.7,1570.5 628.2,1570.5 628.7,1570.6 629.2,1570.7 629.7,1570.8 630.2,1570.9 630.7,1571.0 631.2,1571.1 631.7,1571.3 632.2,1571.4 632.7,1571.5 633.2,1571.6 633.7,1571.7 634.2,1571.8 634.7,1571.9 635.2,1571.9 635.7,1571.9 636.2,1572.0 636.7,1571.9 637.2,1571.9 637.7,1571.9 638.2,1571.9 638.7,1571.8 639.2,1571.8 639.7,1571.8 640.2,1571.7 640.7,1571.7 641.2,1571.7 641.7,1571.7 642.2,1571.6 642.7,1571.6 643.2,1571.6 643.7,1571.6 644.2,1571.6 644.7,1571.6 645.2,1571.6 645.7,1571.5 646.2,1571.5 646.7,1571.5 647.2,1571.4 647.7,1571.3 648.2,1571.3 648.7,1571.2 649.2,1571.1 649.7,1571.0 650.2,1571.0 650.7,1570.9 651.2,1570.8 651.7,1570.8 652.2,1570.8 652.7,1570.7 653.2,1570.7 653.7,1570.7 654.2,1570.8 654.7,1570.8 655.2,1570.8 655.7,1570.9 656.2,1570.9 656.7,1571.0 657.2,1571.0 657.7,1571.1 658.2,1571.1 658.7,1571.1 659.2,1571.1 659.7,1571.1 660.2,1571.1 660.7,1571.1 661.2,1571.1 661.7,1571.1 662.2,1571.1 662.7,1571.1 663.2,1571.1 663.7,1571.1 664.2,1571.1 664.7,1571.2 665.2,1571.2 665.7,1571.3 666.2,1571.4 666.7,1571.5 667.2,1571.6 667.7,1571.7 668.2,1571.8 668.7,1571.9 669.2,1572.0 669.7,1572.0 670.2,1572.1 670.7,1572.1 671.2,1572.1 671.7,1572.1 672.2,1572.1 672.7,1572.0 673.2,1571.9 673.7,1571.8 674.2,1571.7 674.7,1571.6 675.2,1571.5 675.7,1571.4 676.2,1571.3 676.7,1571.2 677.2,1571.1 677.7,1571.0 678.2,1570.9 678.7,1570.9 679.2,1570.8 679.7,1570.8 680.2,1570.8 680.7,1570.8 681.2,1570.9 681.7,1570.9 682.2,1570.9 682.7,1571.0 683.2,1571.0 683.7,1571.0 684.2,1571.1 684.7,1571.1 685.2,1571.1 685.7,1571.1 686.2,1571.1 686.7,1571.1 687.2,1571.1 687.7,1568.6 688.2,1562.1 688.7,1555.6 689.2,1549.1 689.7,1542.6 690.2,1536.1 690.7,1529.6 691.2,1523.1 691.7,1516.6 692.2,1510.1 692.7,1503.6 693.2,1497.1 693.7,1490.6 694.2,1484.1 694.7,1477.6 695.2,1471.0 695.7,1464.5 696.2,1458.0 696.7,1451.4 697.2,1444.8 697.7,1438.2 698.2,1431.6 698.7,1430.3 699.2,1430.2 699.7,1430.2 700.2,1430.1 700.7,1430.1 701.2,1437.0 701.7,1443.9 702.2,1450.9 702.7,1457.8 703.2,1464.8 703.7,1471.7 704.2,1478.7 704.7,1485.7 705.2,1492.7 705.7,1499.7 706.2,1506.6 706.7,1513.6 707.2,1520.6 707.7,1527.5 708.2,1534.4 708.7,1541.3 709.2,1548.2 709.7,1555.1 710.2,1561.9 710.7,1568.7 711.2,1571.4 711.7,1571.3 712.2,1571.2 712.7,1571.2 713.2,1571.1 713.7,1571.0 714.2,1571.0 714.7,1570.9 715.2,1570.9 715.7,1570.9 716.2,1570.9 716.7,1571.0 717.2,1571.0 717.7,1571.1 718.2,1571.1 718.7,1571.2 719.2,1571.3 719.7,1571.4 720.2,1571.4 720.7,1571.5 721.2,1571.5 721.7,1571.5 722.2,1571.5 722.7,1571.5 723.2,1571.5 723.7,1571.5 724.2,1571.4 724.7,1571.4 725.2,1571.4 725.7,1571.3 726.2,1571.2 726.7,1571.2 727.2,1571.2 727.7,1571.1 728.2,1571.1 728.7,1571.1 729.2,1571.1 729.7,1571.1 730.2,1571.1 730.7,1571.1 731.2,1571.1 731.7,1571.1 732.2,1571.1 732.7,1571.1 733.2,1571.1 733.7,1571.1 734.2,1571.1 734.7,1571.1 735.2,1571.1 735.7,1571.1 736.2,1571.1 736.7,1571.1 737.2,1571.1 737.7,1571.2 738.2,1571.2 738.7,1571.3 739.2,1571.3 739.7,1571.4 740.2,1571.5 740.7,1571.6 741.2,1571.7 741.7,1571.8 742.2,1571.9 742.7,1572.0 743.2,1572.0 743.7,1572.1 744.2,1572.1 744.7,1572.1 745.2,1572.1 745.7,1572.0 746.2,1572.0 746.7,1571.9 747.2,1571.8 747.7,1571.7 748.2,1571.5 748.7,1568.8 749.2,1562.2 749.7,1555.7 750.2,1549.1 750.7,1542.6 751.2,1536.0 751.7,1529.5 752.2,1523.0 752.7,1516.6 753.2,1510.1 753.7,1503.7 754.2,1497.3 754.7,1490.9 755.2,1484.6 755.7,1478.2 756.2,1471.8 756.7,1465.5 757.2,1459.1 757.7,1452.7 758.2,1447.6 758.7,1447.6 759.2,1447.7 759.7,1447.7 760.2,1447.7 760.7,1450.2 761.2,1456.6 761.7,1463.0 762.2,1469.4 762.7,1475.8 763.2,1482.2 763.7,1488.7 764.2,1495.1 764.7,1501.5 765.2,1508.0 765.7,1514.4 766.2,1520.9 766.7,1527.4 767.2,1533.9 767.7,1540.4 768.2,1546.9 768.7,1553.4 769.2,1559.9 769.7,1566.4 770.2,1571.6 770.7,1571.6 771.2,1571.7 771.7,1571.7 772.2,1571.8 772.7,1571.8 773.2,1571.8 773.7,1571.8 774.2,1571.8 774.7,1571.8 775.2,1571.8 775.7,1571.8 776.2,1571.8 776.7,1571.8 777.2,1571.8 777.7,1571.8 778.2,1571.8 778.7,1571.8 779.2,1571.8 779.7,1571.8 780.2,1571.7 780.7,1571.7 781.2,1571.6 781.7,1571.5 782.2,1571.4 782.7,1571.3 783.2,1571.2 783.7,1571.1 784.2,1570.9 784.7,1570.8 785.2,1570.6 785.7,1570.5 786.2,1570.4 786.7,1570.3 787.2,1570.2 787.7,1570.2 788.2,1570.2 788.7,1570.2 789.2,1570.2 789.7,1570.3 790.2,1570.4 790.7,1570.5 791.2,1570.6 791.7,1570.8 792.2,1570.9 792.7,1571.1 793.2,1571.3 793.7,1571.4 794.2,1571.6 794.7,1571.7 795.2,1571.8 795.7,1571.9 796.2,1571.9 796.7,1572.0 797.2,1572.0 797.7,1572.0 798.2,1571.9 798.7,1571.9 799.2,1571.8 799.7,1571.7 800.2,1571.7 800.7,1571.6 801.2,1571.6 801.7,1571.5 802.2,1571.5 802.7,1571.4 803.2,1571.4 803.7,1571.4 804.2,1571.4 804.7,1571.4 805.2,1571.4 805.7,1571.5 806.2,1571.5 806.7,1571.5 807.2,1571.5 807.7,1571.6 808.2,1571.6 808.7,1571.6 809.2,1571.5 809.7,1571.5 810.2,1571.5 810.7,1571.5 811.2,1571.4 811.7,1571.4 812.2,1571.3 812.7,1571.3 813.2,1571.2 813.7,1571.2 814.2,1571.2 814.7,1571.1 815.2,1571.1 815.7,1571.1 816.2,1571.1 816.7,1571.0 817.2,1571.0 817.7,1571.0 818.2,1571.0 818.7,1570.9 819.2,1570.9 819.7,1570.9 820.2,1570.8 820.7,1570.8 821.2,1570.8 821.7,1570.7 822.2,1570.7 822.7,1570.7 823.2,1570.7 823.7,1570.7 824.2,1570.7 824.7,1570.8 825.2,1570.8 825.7,1570.9 826.2,1571.0 826.7,1571.1 827.2,1571.3 827.7,1571.4 828.2,1571.5 828.7,1571.7 829.2,1571.8 829.7,1572.0 830.2,1572.1 830.7,1572.2 831.2,1572.2 831.7,1572.3 832.2,1572.3 832.7,1572.3 833.2,1572.2 833.7,1572.1 834.2,1572.0 834.7,1571.9 835.2,1571.7 835.7,1571.6 836.2,1571.4 836.7,1571.3 837.2,1571.2 837.7,1571.0 838.2,1570.9 838.7,1570.8 839.2,1570.8 839.7,1570.7 840.2,1570.7 840.7,1570.7 841.2,1570.8 841.7,1570.8 842.2,1570.9 842.7,1571.0 843.2,1571.0 843.7,1571.1 844.2,1571.2 844.7,1571.3 845.2,1571.4 845.7,1571.4 846.2,1571.5 846.7,1571.5 847.2,1571.6 847.7,1571.6 848.2,1571.6 848.7,1571.5 849.2,1571.5 849.7,1571.5 850.2,1571.4 850.7,1571.4 851.2,1571.4 851.7,1571.3 852.2,1571.3 852.7,1571.3 853.2,1571.2 853.7,1571.2 854.2,1571.2 854.7,1571.2 855.2,1571.1 855.7,1571.1 856.2,1571.1 856.7,1571.1 857.2,1571.1 857.7,1571.0 858.2,1571.0 858.7,1571.0 859.2,1571.0 859.7,1571.0 860.2,1571.0 860.7,1571.0 861.2,1571.0 861.7,1571.0 862.2,1571.1 862.7,1571.1 863.2,1571.2 863.7,1571.3 864.2,1571.4 864.7,1571.4 865.2,1571.5 865.7,1571.6 866.2,1571.7 866.7,1571.8 867.2,1571.8 867.7,1571.9" fill="none" stroke="#6CBE45" stroke-width="4.0" stroke-linejoin="round"/>
<path d="M185.2,1571.5 L185.7,1571.4 L186.2,1571.2 L186.7,1571.0 L187.2,1570.8 L187.7,1570.6 L188.2,1570.4 L188.7,1570.2 L189.2,1570.0 L189.7,1569.8 L190.2,1569.7 L190.7,1569.6 L191.2,1569.6 L191.7,1569.6 L192.2,1569.7 L192.7,1569.8 L193.2,1570.0 L193.7,1570.2 L194.2,1570.4 L194.7,1570.6 L195.2,1570.9 L195.7,1571.1 L196.2,1571.3 L196.7,1571.5 L197.2,1571.6 L197.7,1571.7 L198.2,1571.8 L198.7,1571.8 L199.2,1571.7 L199.7,1571.6 L200.2,1571.5 L200.7,1571.3 L201.2,1571.1 L201.7,1570.9 L202.2,1570.7 L202.7,1570.5 L203.2,1570.4 L203.7,1570.3 L204.2,1570.2 L204.7,1570.2 L205.2,1570.2 L205.7,1570.2 L206.2,1570.3 L206.7,1570.5 L207.2,1570.6 L207.7,1570.8 L208.2,1570.9 L208.7,1571.1 L209.2,1571.2 L209.7,1571.3 L210.2,1571.4 L210.7,1571.5 L211.2,1571.5 L211.7,1571.5 L212.2,1571.4 L212.7,1571.3 L213.2,1571.2 L213.7,1571.1 L214.2,1571.0 L214.7,1570.8 L215.2,1570.7 L215.7,1570.6 L216.2,1570.4 L216.7,1570.3 L217.2,1570.2 L217.7,1570.1 L218.2,1570.1 L218.7,1570.0 L219.2,1570.0 L219.7,1570.0 L220.2,1570.1 L220.7,1570.1 L221.2,1570.2 L221.7,1570.2 L222.2,1570.3 L222.7,1570.5 L223.2,1570.6 L223.7,1570.7 L224.2,1570.9 L224.7,1571.1 L225.2,1571.2 L225.7,1571.4 L226.2,1571.5 L226.7,1571.6 L227.2,1571.7 L227.7,1571.8 L228.2,1571.8 L228.7,1571.7 L229.2,1571.7 L229.7,1571.6 L230.2,1571.4 L230.7,1571.3 L231.2,1571.1 L231.7,1570.9 L232.2,1570.7 L232.7,1570.5 L233.2,1570.3 L233.7,1570.2 L234.2,1570.1 L234.7,1570.0 L235.2,1570.0 L235.7,1570.1 L236.2,1570.1 L236.7,1570.3 L237.2,1570.4 L237.7,1570.6 L238.2,1570.8 L238.7,1570.9 L239.2,1571.1 L239.7,1571.2 L240.2,1571.3 L240.7,1571.4 L241.2,1571.4 L241.7,1571.3 L242.2,1571.2 L242.7,1571.1 L243.2,1571.0 L243.7,1570.8 L244.2,1570.6 L244.7,1570.5 L245.2,1570.3 L245.7,1570.2 L246.2,1570.1 L246.7,1570.1 L247.2,1570.1 L247.7,1570.1 L248.2,1570.2 L248.7,1570.3 L249.2,1570.5 L249.7,1570.6 L250.2,1570.8 L250.7,1570.9 L251.2,1571.1 L251.7,1571.2 L252.2,1571.3 L252.7,1571.3 L253.2,1571.4 L253.7,1571.4 L254.2,1571.4 L254.7,1571.4 L255.2,1571.3 L255.7,1571.3 L256.2,1571.2 L256.7,1571.2 L257.2,1571.1 L257.7,1571.1 L258.2,1571.0 L258.7,1571.0 L259.2,1571.0 L259.7,1570.9 L260.2,1570.9 L260.7,1570.8 L261.2,1570.8 L261.7,1570.7 L262.2,1570.6 L262.7,1570.5 L263.2,1570.4 L263.7,1570.4 L264.2,1570.3 L264.7,1570.2 L265.2,1570.2 L265.7,1570.2 L266.2,1570.2 L266.7,1570.2 L267.2,1570.3 L267.7,1570.4 L268.2,1570.5 L268.7,1570.6 L269.2,1570.8 L269.7,1570.9 L270.2,1571.0 L270.7,1571.1 L271.2,1571.2 L271.7,1571.3 L272.2,1571.3 L272.7,1571.3 L273.2,1571.2 L273.7,1571.1 L274.2,1571.0 L274.7,1570.9 L275.2,1570.8 L275.7,1570.7 L276.2,1570.6 L276.7,1570.5 L277.2,1570.5 L277.7,1569.5 L278.2,1562.4 L278.7,1555.3 L279.2,1548.3 L279.7,1541.3 L280.2,1534.3 L280.7,1527.3 L281.2,1520.3 L281.7,1513.3 L282.2,1506.2 L282.7,1499.1 L283.2,1492.0 L283.7,1484.8 L284.2,1477.6 L284.7,1470.4 L285.2,1463.1 L285.7,1455.8 L286.2,1448.5 L286.7,1441.2 L287.2,1435.3 L287.7,1435.2 L288.2,1435.1 C288.68,1437.00 289.87,1439.60 290.60,1443.50 C291.33,1447.40 291.80,1449.78 292.70,1459.10 C293.60,1468.42 294.85,1485.00 296.00,1499.40 C297.15,1513.80 298.70,1536.73 299.60,1545.50 C300.50,1554.27 300.75,1551.83 301.40,1552.00 C302.05,1552.17 302.72,1548.77 303.50,1546.50 C304.28,1544.23 304.77,1541.32 306.10,1538.40 C307.43,1535.48 309.25,1532.13 311.50,1529.00 C313.75,1525.87 317.35,1522.73 319.60,1519.60 C321.85,1516.47 323.22,1514.68 325.00,1510.20 C326.78,1505.72 328.28,1498.53 330.30,1492.70 C332.32,1486.87 335.30,1480.80 337.10,1475.20 C338.90,1469.60 339.77,1466.72 341.10,1459.10 C342.43,1451.48 343.75,1438.92 345.10,1429.50 C346.45,1420.08 347.57,1408.87 349.20,1402.60 C350.83,1396.33 352.88,1391.45 354.90,1391.90 C356.92,1392.35 359.45,1399.70 361.30,1405.30 C363.15,1410.90 364.55,1420.45 366.00,1425.50 C367.45,1430.55 368.55,1436.72 370.00,1435.60 C371.45,1434.48 373.13,1426.08 374.70,1418.80 C376.27,1411.52 377.95,1398.85 379.40,1391.90 C380.85,1384.95 382.05,1377.10 383.40,1377.10 C384.75,1377.10 386.27,1382.72 387.50,1391.90 C388.73,1401.08 389.68,1416.52 390.80,1432.20 C391.92,1447.88 393.07,1470.32 394.20,1486.00 C395.33,1501.68 396.48,1516.67 397.60,1526.30 C398.72,1535.93 399.33,1539.98 400.90,1543.80 C402.47,1547.62 404.87,1547.18 407.00,1549.20 C409.13,1551.22 411.68,1553.67 413.70,1555.90 C415.72,1558.13 417.22,1560.58 419.10,1562.60 C420.98,1564.62 422.85,1566.67 425.00,1568.00 C427.15,1569.33 430.83,1570.17 432.00,1570.60 L432.0,1570.3 L432.5,1570.4 L433.0,1570.4 L433.5,1570.5 L434.0,1570.6 L434.5,1570.7 L435.0,1570.8 L435.5,1570.9 L436.0,1571.0 L436.5,1571.1 L437.0,1571.2 L437.5,1571.2 L438.0,1571.3 L438.5,1571.3 L439.0,1571.3 L439.5,1571.3 L440.0,1571.2 L440.5,1571.1 L441.0,1571.0 L441.5,1570.8 L442.0,1570.7 L442.5,1570.5 L443.0,1570.3 L443.5,1570.2 L444.0,1570.0 L444.5,1569.9 L445.0,1569.8 L445.5,1569.8 L446.0,1569.8 L446.5,1569.9 L447.0,1570.0 L447.5,1570.2 L448.0,1570.4 L448.5,1570.6 L449.0,1570.9 L449.5,1571.1 L450.0,1571.4 L450.5,1571.6 L451.0,1571.8 L451.5,1572.0 L452.0,1572.1 L452.5,1572.2 L453.0,1572.2 L453.5,1572.1 L454.0,1572.0 L454.5,1571.8 L455.0,1571.5 L455.5,1571.3 L456.0,1571.0 L456.5,1570.7 L457.0,1570.5 L457.5,1570.2 L458.0,1570.0 L458.5,1569.9 L459.0,1569.8 L459.5,1569.7 L460.0,1569.7 L460.5,1569.7 L461.0,1569.8 L461.5,1569.9 L462.0,1568.7 L462.5,1562.3 L463.0,1555.9 L463.5,1549.6 L464.0,1543.2 L464.5,1536.9 L465.0,1530.5 L465.5,1524.1 L466.0,1517.6 L466.5,1511.1 L467.0,1504.6 L467.5,1498.1 L468.0,1491.5 L468.5,1484.9 L469.0,1478.3 L469.5,1471.6 L470.0,1465.0 L470.5,1458.3 L471.0,1451.7 L471.5,1447.6 L472.0,1447.5 L472.5,1447.4 L473.0,1447.4 L473.5,1447.3 L474.0,1450.8 L474.5,1456.6 L475.0,1462.5 L475.5,1468.4 L476.0,1474.3 L476.5,1480.3 L477.0,1486.2 L477.5,1492.2 L478.0,1498.2 L478.5,1504.2 L479.0,1510.2 L479.5,1516.2 L480.0,1522.1 L480.5,1528.1 L481.0,1534.0 L481.5,1539.8 L482.0,1545.6 L482.5,1551.4 L483.0,1557.2 L483.5,1562.9 L484.0,1568.5 L484.5,1571.0 L485.0,1570.8 L485.5,1570.6 L486.0,1570.4 L486.5,1570.2 L487.0,1570.0 L487.5,1569.9 L488.0,1569.7 L488.5,1569.7 L489.0,1569.7 L489.5,1569.7 L490.0,1569.8 L490.5,1569.9 L491.0,1570.0 L491.5,1570.2 L492.0,1570.4 L492.5,1570.6 L493.0,1570.8 L493.5,1571.0 L494.0,1571.2 L494.5,1571.4 L495.0,1571.5 L495.5,1571.6 L496.0,1571.6 L496.5,1571.6 L497.0,1571.6 L497.5,1571.6 L498.0,1571.5 L498.5,1571.4 L499.0,1571.2 L499.5,1571.1 L500.0,1571.0 L500.5,1570.8 L501.0,1570.7 L501.5,1570.6 L502.0,1570.5 L502.5,1570.4 L503.0,1570.4 L503.5,1570.4 L504.0,1570.4 L504.5,1570.4 L505.0,1570.5 L505.5,1570.5 L506.0,1570.6 L506.5,1570.7 L507.0,1570.8 L507.5,1570.9 L508.0,1571.0 L508.5,1571.1 L509.0,1571.2 L509.5,1571.2 L510.0,1571.2 L510.5,1571.3 L511.0,1571.2 L511.5,1571.2 L512.0,1571.1 L512.5,1571.0 L513.0,1570.9 L513.5,1570.8 L514.0,1570.6 L514.5,1570.5 L515.0,1570.4 L515.5,1570.2 L516.0,1570.1 L516.5,1570.1 L517.0,1570.0 L517.5,1570.0 L518.0,1570.0 L518.5,1570.1 L519.0,1570.1 L519.5,1570.3 L520.0,1570.4 L520.5,1570.6 L521.0,1570.7 L521.5,1570.9 L522.0,1571.0 L522.5,1571.2 L523.0,1571.3 L523.5,1571.3 L524.0,1571.3 L524.5,1571.3 L525.0,1571.2 L525.5,1571.0 L526.0,1570.8 L526.5,1570.5 L527.0,1570.1 L527.5,1569.7 L528.0,1569.2 L528.5,1568.7 L529.0,1568.1 L529.5,1567.4 L530.0,1566.8 L530.5,1566.1 L531.0,1565.4 L531.5,1564.6 L532.0,1563.9 L532.5,1563.3 L533.0,1562.6 L533.5,1562.1 L534.0,1561.6 L534.5,1561.2 L535.0,1560.9 L535.5,1560.7 L536.0,1560.6 L536.5,1560.7 L537.0,1560.8 L537.5,1561.1 L538.0,1561.5 L538.5,1562.0 L539.0,1562.5 L539.5,1563.2 L540.0,1563.8 L540.5,1564.5 L541.0,1565.2 L541.5,1565.8 L542.0,1566.5 L542.5,1567.0 L543.0,1567.6 L543.5,1568.0 L544.0,1568.5 L544.5,1568.8 L545.0,1569.1 L545.5,1569.3 L546.0,1569.5 L546.5,1569.7 L547.0,1569.8 L547.5,1569.8 L548.0,1569.9 L548.5,1570.0 L549.0,1570.0 L549.5,1570.0 L550.0,1570.0 L550.5,1570.1 L551.0,1570.1 L551.5,1570.0 L552.0,1570.0 L552.5,1569.9 L553.0,1569.9 L553.5,1569.7 L554.0,1569.6 L554.5,1569.4 L555.0,1569.2 L555.5,1569.0 L556.0,1568.8 L556.5,1568.5 L557.0,1568.2 L557.5,1568.0 L558.0,1567.8 L558.5,1567.6 L559.0,1567.4 L559.5,1567.3 L560.0,1567.2 L560.5,1567.2 L561.0,1567.2 L561.5,1567.3 L562.0,1567.4 L562.5,1567.6 L563.0,1567.8 L563.5,1568.0 L564.0,1568.2 L564.5,1568.5 L565.0,1568.7 L565.5,1568.9 L566.0,1569.1 L566.5,1569.2 L567.0,1569.4 L567.5,1569.5 L568.0,1569.6 L568.5,1569.7 L569.0,1569.8 L569.5,1569.9 L570.0,1570.0 L570.5,1570.0 L571.0,1570.1 L571.5,1570.2 L572.0,1570.4 L572.5,1570.5 L573.0,1570.6 L573.5,1570.7 L574.0,1570.9 L574.5,1571.0 L575.0,1571.1 L575.5,1571.1 L576.0,1571.2 L576.5,1571.2 L577.0,1571.2 L577.5,1571.2 L578.0,1571.1 L578.5,1571.1 L579.0,1571.0 L579.5,1570.9 L580.0,1570.8 L580.5,1570.7 L581.0,1570.7 L581.5,1570.6 L582.0,1570.6 L582.5,1570.6 L583.0,1570.6 L583.5,1570.6 L584.0,1570.6 L584.5,1570.6 L585.0,1570.7 L585.5,1570.7 L586.0,1570.7 L586.5,1570.7 L587.0,1570.7 L587.5,1570.7 L588.0,1570.6 L588.5,1570.6 L589.0,1570.6 L589.5,1570.5 L590.0,1570.5 L590.5,1570.5 L591.0,1570.5 L591.5,1570.5 L592.0,1570.5 L592.5,1570.6 L593.0,1570.7 L593.5,1570.7 L594.0,1570.8 L594.5,1570.9 L595.0,1571.0 L595.5,1571.1 L596.0,1571.1 L596.5,1571.2 L597.0,1571.2 L597.5,1568.1 L598.0,1558.3 L598.5,1548.6 L599.0,1538.9 L599.5,1529.1 L600.0,1519.4 L600.5,1509.7 L601.0,1500.0 L601.5,1490.3 L602.0,1480.6 L602.5,1470.9 L603.0,1461.3 L603.5,1451.7 L604.0,1442.1 L604.5,1432.6 L605.0,1423.0 L605.5,1413.4 L606.0,1403.8 L606.5,1394.1 L607.0,1384.5 L607.5,1374.8 L608.0,1374.7 L608.5,1374.6 L609.0,1374.4 L609.5,1374.3 L610.0,1375.9 L610.5,1384.6 L611.0,1393.3 L611.5,1402.0 L612.0,1410.8 L612.5,1419.6 L613.0,1428.5 L613.5,1437.4 L614.0,1446.3 L614.5,1455.3 L615.0,1464.4 L615.5,1473.4 L616.0,1482.5 L616.5,1491.6 L617.0,1500.7 L617.5,1509.8 L618.0,1518.8 L618.5,1527.8 L619.0,1536.8 L619.5,1545.7 L620.0,1554.6 L620.5,1563.5 L621.0,1571.4 L621.5,1571.3 L622.0,1571.2 L622.5,1571.0 L623.0,1570.9 L623.5,1570.8 L624.0,1570.7 L624.5,1570.7 L625.0,1570.6 L625.5,1569.3 L626.0,1562.8 L626.5,1556.2 L627.0,1549.7 L627.5,1543.2 L628.0,1536.7 L628.5,1530.2 L629.0,1523.6 L629.5,1517.1 L630.0,1510.5 L630.5,1504.0 L631.0,1497.4 L631.5,1490.8 L632.0,1484.2 L632.5,1477.6 L633.0,1471.0 L633.5,1464.5 L634.0,1457.9 L634.5,1456.6 L635.0,1456.6 L635.5,1456.6 L636.0,1456.6 L636.5,1456.6 L637.0,1462.5 L637.5,1468.4 L638.0,1474.3 L638.5,1480.1 L639.0,1486.0 L639.5,1491.8 L640.0,1497.6 L640.5,1503.4 L641.0,1509.1 L641.5,1514.9 L642.0,1520.7 L642.5,1526.5 L643.0,1532.4 L643.5,1538.3 L644.0,1544.2 L644.5,1550.2 L645.0,1556.2 L645.5,1562.3 L646.0,1568.4 L646.5,1571.0 L647.0,1571.2 L647.5,1571.5 L648.0,1571.7 L648.5,1571.9 L649.0,1572.0 L649.5,1572.1 L650.0,1572.1 L650.5,1572.0 L651.0,1571.9 L651.5,1571.7 L652.0,1571.5 L652.5,1571.2 L653.0,1570.9 L653.5,1570.7 L654.0,1570.4 L654.5,1570.1 L655.0,1570.0 L655.5,1569.8 L656.0,1569.7 L656.5,1569.7 L657.0,1569.8 L657.5,1569.9 L658.0,1570.0 L658.5,1570.2 L659.0,1570.4 L659.5,1570.6 L660.0,1570.8 L660.5,1571.0 L661.0,1571.2 L661.5,1571.3 L662.0,1571.4 L662.5,1571.4 L663.0,1571.4 L663.5,1571.3 L664.0,1571.2 L664.5,1571.1 L665.0,1571.0 L665.5,1570.8 L666.0,1570.7 L666.5,1570.6 L667.0,1570.5 L667.5,1570.4 L668.0,1570.4 L668.5,1570.4 L669.0,1570.4 L669.5,1570.4 L670.0,1570.4 L670.5,1570.5 L671.0,1570.6 L671.5,1570.6 L672.0,1570.7 L672.5,1570.7 L673.0,1570.8 L673.5,1570.8 L674.0,1570.9 L674.5,1571.0 L675.0,1571.0 L675.5,1571.1 L676.0,1571.2 L676.5,1571.3 L677.0,1571.3 L677.5,1571.4 L678.0,1571.5 L678.5,1571.6 L679.0,1571.6 L679.5,1571.6 L680.0,1571.6 L680.5,1571.5 L681.0,1571.4 L681.5,1571.2 L682.0,1571.0 L682.5,1570.8 L683.0,1570.6 L683.5,1570.3 L684.0,1570.1 L684.5,1569.9 L685.0,1569.7 L685.5,1569.5 L686.0,1569.4 L686.5,1569.4 L687.0,1569.4 L687.5,1569.6 L688.0,1569.7 L688.5,1570.0 L689.0,1570.3 L689.5,1570.6 L690.0,1570.9 L690.5,1571.2 L691.0,1571.5 L691.5,1571.7 L692.0,1571.9 L692.5,1572.0 L693.0,1572.1 L693.5,1572.0 L694.0,1571.9 L694.5,1571.8 L695.0,1571.6 L695.5,1571.3 L696.0,1571.1 L696.5,1570.8 L697.0,1570.5 L697.5,1570.3 L698.0,1570.1 L698.5,1570.0 L699.0,1570.0 L699.5,1569.9 L700.0,1570.0 L700.5,1570.1 L701.0,1570.3 L701.5,1570.4 L702.0,1570.6 L702.5,1570.8 L703.0,1571.0 L703.5,1571.2 L704.0,1571.4 L704.5,1571.5 L705.0,1571.5 L705.5,1571.5 L706.0,1571.5 L706.5,1571.5 L707.0,1571.4 L707.5,1571.3 L708.0,1571.2 L708.5,1571.0 L709.0,1570.9 L709.5,1570.8 L710.0,1570.6 L710.5,1570.5 L711.0,1570.4 L711.5,1570.3 L712.0,1570.2 L712.5,1570.2 L713.0,1570.1 L713.5,1570.1 L714.0,1570.0 L714.5,1570.0 L715.0,1570.0 L715.5,1570.0 L716.0,1570.1 L716.5,1570.1 L717.0,1570.2 L717.5,1570.3 L718.0,1570.5 L718.5,1570.7 L719.0,1570.9 L719.5,1571.1 L720.0,1571.3 L720.5,1571.5 L721.0,1571.7 L721.5,1571.9 L722.0,1572.0 L722.5,1572.1 L723.0,1572.1 L723.5,1572.1 L724.0,1572.0 L724.5,1571.8 L725.0,1571.6 L725.5,1571.4 L726.0,1571.1 L726.5,1570.8 L727.0,1570.5 L727.5,1570.2 L728.0,1570.0 L728.5,1569.8 L729.0,1569.7 L729.5,1569.6 L730.0,1569.6 L730.5,1569.7 L731.0,1569.8 L731.5,1570.0 L732.0,1570.2 L732.5,1570.5 L733.0,1570.8 L733.5,1568.0 L734.0,1564.5 L734.5,1561.0 L735.0,1557.4 L735.5,1553.7 L736.0,1550.0 L736.5,1546.2 L737.0,1542.4 L737.5,1538.5 L738.0,1534.6 L738.5,1530.6 L739.0,1526.7 L739.5,1522.7 L740.0,1518.7 L740.5,1514.8 L741.0,1510.9 L741.5,1507.1 L742.0,1503.3 L742.5,1499.6 L743.0,1495.9 L743.5,1492.3 L744.0,1488.7 L744.5,1485.8 L745.0,1486.0 L745.5,1486.2 L746.0,1486.4 L746.5,1486.6 L747.0,1488.3 L747.5,1492.3 L748.0,1496.4 L748.5,1500.4 L749.0,1504.4 L749.5,1508.3 L750.0,1512.3 L750.5,1516.2 L751.0,1520.1 L751.5,1524.0 L752.0,1527.8 L752.5,1531.7 L753.0,1535.5 L753.5,1539.3 L754.0,1543.1 L754.5,1546.9 L755.0,1550.7 L755.5,1554.4 L756.0,1558.2 L756.5,1562.0 L757.0,1565.8 L757.5,1569.6 L758.0,1569.9 L758.5,1569.8 L759.0,1569.8 L759.5,1569.8 L760.0,1569.8 L760.5,1569.9 L761.0,1570.0 L761.5,1570.2 L762.0,1570.3 L762.5,1570.5 L763.0,1570.8 L763.5,1571.0 L764.0,1571.2 L764.5,1571.4 L765.0,1571.5 L765.5,1571.6 L766.0,1571.7 L766.5,1571.7 L767.0,1571.7 L767.5,1571.6 L768.0,1571.4 L768.5,1571.3 L769.0,1571.1 L769.5,1570.9 L770.0,1570.6 L770.5,1570.5 L771.0,1570.3 L771.5,1570.2 L772.0,1570.1 L772.5,1570.1 L773.0,1570.1 L773.5,1570.2 L774.0,1570.3 L774.5,1570.5 L775.0,1570.7 L775.5,1570.9 L776.0,1571.0 L776.5,1571.2 L777.0,1571.4 L777.5,1571.5 L778.0,1571.6 L778.5,1571.7 L779.0,1571.7 L779.5,1571.6 L780.0,1571.5 L780.5,1571.4 L781.0,1571.2 L781.5,1571.1 L782.0,1570.9 L782.5,1570.7 L783.0,1570.5 L783.5,1570.3 L784.0,1570.2 L784.5,1570.1 L785.0,1570.0 L785.5,1570.0 L786.0,1570.0 L786.5,1570.0 L787.0,1570.0 L787.5,1570.1 L788.0,1570.2 L788.5,1570.2 L789.0,1570.4 L789.5,1570.5 L790.0,1570.6 L790.5,1570.7 L791.0,1570.8 L791.5,1570.9 L792.0,1571.0 L792.5,1571.1 L793.0,1571.2 L793.5,1571.3 L794.0,1571.4 L794.5,1571.4 L795.0,1571.5 L795.5,1571.5 L796.0,1571.5 L796.5,1571.5 L797.0,1571.4 L797.5,1571.3 L798.0,1571.2 L798.5,1571.1 L799.0,1571.0 L799.5,1570.9 L800.0,1570.7 L800.5,1570.6 L801.0,1570.5 L801.5,1570.4 L802.0,1570.4 L802.5,1570.3 L803.0,1570.3 L803.5,1570.3 L804.0,1570.4 L804.5,1570.5 L805.0,1570.5 L805.5,1570.7 L806.0,1570.8 L806.5,1570.9 L807.0,1571.0 L807.5,1571.1 L808.0,1571.1 L808.5,1571.1 L809.0,1571.1 L809.5,1571.1 L810.0,1571.1 L810.5,1571.0 L811.0,1570.9 L811.5,1570.8 L812.0,1570.6 L812.5,1570.5 L813.0,1570.4 L813.5,1570.3 L814.0,1570.2 L814.5,1570.2 L815.0,1570.2 L815.5,1570.2 L816.0,1570.3 L816.5,1570.3 L817.0,1570.4 L817.5,1570.6 L818.0,1570.7 L818.5,1570.8 L819.0,1571.0 L819.5,1571.1 L820.0,1571.2 L820.5,1571.3 L821.0,1571.4 L821.5,1571.4 L822.0,1571.4 L822.5,1571.4 L823.0,1571.4 L823.5,1571.4 L824.0,1571.3 L824.5,1571.3 L825.0,1571.2 L825.5,1571.1 L826.0,1571.0 L826.5,1570.9 L827.0,1570.9 L827.5,1570.8 L828.0,1570.7 L828.5,1570.6 L829.0,1570.6 L829.5,1570.5 L830.0,1570.5 L830.5,1570.5 L831.0,1570.4 L831.5,1570.4 L832.0,1570.4 L832.5,1570.4 L833.0,1570.4 L833.5,1570.5 L834.0,1570.5 L834.5,1570.5 L835.0,1570.6 L835.5,1570.6 L836.0,1570.7 L836.5,1570.7 L837.0,1570.7 L837.5,1570.8 L838.0,1570.8 L838.5,1570.8 L839.0,1570.8 L839.5,1570.8 L840.0,1570.8 L840.5,1570.8 L841.0,1570.8 L841.5,1570.8 L842.0,1570.8 L842.5,1570.8 L843.0,1570.8 L843.5,1570.8 L844.0,1570.8 L844.5,1570.8 L845.0,1570.9 L845.5,1570.9 L846.0,1570.9 L846.5,1571.0 L847.0,1571.0 L847.5,1571.1 L848.0,1571.1 L848.5,1571.1 L849.0,1571.2 L849.5,1571.2 L850.0,1571.2 L850.5,1571.1 L851.0,1571.1 L851.5,1571.0 L852.0,1571.0 L852.5,1570.9 L853.0,1570.8 L853.5,1570.8 L854.0,1570.7 L854.5,1570.7 L855.0,1570.6 L855.5,1570.6 L856.0,1570.5 L856.5,1570.5 L857.0,1570.5 L857.5,1570.5 L858.0,1570.5 L858.5,1570.5 L859.0,1570.6 L859.5,1570.6 L860.0,1570.6 L860.5,1570.6 L861.0,1570.6 L861.5,1570.6 L862.0,1570.6 L862.5,1570.6 L863.0,1570.7 L863.5,1570.7 L864.0,1570.7 L864.5,1570.7 L865.0,1570.7 L865.5,1570.7 L866.0,1570.7 L866.5,1570.8 L867.0,1570.8 L867.5,1570.8 L868.0,1570.9" fill="none" stroke="#2D5FB4" stroke-width="4.0" stroke-linejoin="round"/>
<polyline points="185.2,1571.5 185.7,1571.6 186.2,1571.6 186.7,1571.7 187.2,1571.9 187.7,1572.0 188.2,1572.2 188.7,1572.4 189.2,1572.5 189.7,1572.7 190.2,1572.9 190.7,1573.0 191.2,1573.1 191.7,1573.1 192.2,1573.1 192.7,1573.1 193.2,1573.0 193.7,1573.0 194.2,1572.9 194.7,1572.8 195.2,1572.6 195.7,1572.5 196.2,1572.4 196.7,1572.3 197.2,1572.3 197.7,1572.2 198.2,1572.2 198.7,1572.2 199.2,1572.2 199.7,1572.3 200.2,1572.3 200.7,1572.4 201.2,1572.5 201.7,1572.5 202.2,1572.5 202.7,1570.3 203.2,1562.2 203.7,1554.1 204.2,1546.0 204.7,1537.8 205.2,1529.7 205.7,1521.5 206.2,1513.4 206.7,1505.2 207.2,1497.1 207.7,1488.9 208.2,1480.8 208.7,1472.7 209.2,1464.6 209.7,1456.6 210.2,1448.6 210.7,1440.6 211.2,1432.6 211.7,1424.6 212.2,1416.6 212.7,1408.6 213.2,1400.5 213.7,1392.5 214.2,1392.5 214.7,1392.5 215.2,1392.5 215.7,1392.5 216.2,1394.0 216.7,1401.9 217.2,1409.9 217.7,1417.8 218.2,1425.7 218.7,1433.6 219.2,1441.6 219.7,1449.6 220.2,1457.6 220.7,1465.6 221.2,1473.6 221.7,1481.7 222.2,1489.8 222.7,1497.8 223.2,1505.9 223.7,1513.9 224.2,1522.0 224.7,1530.0 225.2,1537.9 225.7,1545.9 226.2,1553.8 226.7,1561.7 227.2,1566.9 227.7,1563.3 228.2,1556.5 228.7,1549.8 229.2,1543.0 229.7,1536.2 230.2,1529.5 230.7,1522.8 231.2,1516.1 231.7,1509.5 232.2,1502.9 232.7,1496.3 233.2,1489.7 233.7,1483.2 234.2,1476.7 234.7,1470.2 235.2,1463.8 235.7,1457.3 236.2,1450.9 236.7,1444.4 237.2,1437.9 237.7,1431.4 238.2,1424.9 238.7,1423.7 239.2,1423.7 239.7,1423.7 240.2,1423.8 240.7,1423.8 241.2,1431.7 241.7,1439.6 242.2,1447.5 242.7,1455.4 243.2,1463.3 243.7,1471.1 244.2,1479.0 244.7,1486.8 245.2,1494.7 245.7,1502.5 246.2,1510.3 246.7,1518.1 247.2,1525.9 247.7,1533.7 248.2,1541.4 248.7,1549.2 249.2,1556.9 249.7,1564.7 250.2,1571.7 250.7,1571.6 251.2,1571.5 251.7,1571.4 252.2,1571.4 252.7,1571.5 253.2,1571.6 253.7,1571.7 254.2,1571.8 254.7,1572.0 255.2,1572.2 255.7,1572.4 256.2,1572.7 256.7,1572.8 257.2,1573.0 257.7,1573.2 258.2,1573.3 258.7,1573.3 259.2,1573.3 259.7,1573.3 260.2,1573.2 260.7,1573.0 261.2,1572.9 261.7,1572.7 262.2,1572.5 262.7,1572.3 263.2,1572.1 263.7,1571.9 264.2,1571.8 264.7,1571.7 265.2,1571.7 265.7,1571.7 266.2,1571.7 266.7,1571.8 267.2,1572.0 267.7,1572.1 268.2,1572.3 268.7,1572.5 269.2,1572.7 269.7,1572.9 270.2,1573.0 270.7,1573.1 271.2,1573.2 271.7,1573.2 272.2,1573.2 272.7,1573.2 273.2,1573.1 273.7,1573.0 274.2,1572.8 274.7,1572.7 275.2,1572.5 275.7,1572.3 276.2,1572.1 276.7,1572.0 277.2,1571.8 277.7,1571.7 278.2,1571.6 278.7,1571.5 279.2,1571.5 279.7,1571.5 280.2,1571.5 280.7,1571.5 281.2,1571.6 281.7,1571.7 282.2,1571.8 282.7,1571.9 283.2,1572.0 283.7,1572.2 284.2,1572.3 284.7,1572.5 285.2,1572.6 285.7,1572.8 286.2,1573.0 286.7,1573.1 287.2,1573.2 287.7,1573.4 288.2,1573.5 288.7,1573.5 289.2,1573.6 289.7,1573.6 290.2,1573.6 290.7,1573.5 291.2,1573.4 291.7,1573.2 292.2,1573.0 292.7,1572.8 293.2,1572.5 293.7,1572.3 294.2,1572.0 294.7,1571.7 295.2,1571.5 295.7,1571.3 296.2,1571.1 296.7,1571.0 297.2,1570.9 297.7,1570.9 298.2,1571.0 298.7,1571.1 299.2,1571.3 299.7,1571.5 300.2,1571.8 300.7,1572.1 301.2,1572.3 301.7,1568.2 302.2,1564.1 302.7,1560.0 303.2,1555.8 303.7,1551.6 304.2,1547.3 304.7,1542.9 305.2,1538.5 305.7,1534.0 306.2,1529.5 306.7,1524.9 307.2,1520.3 307.7,1515.7 308.2,1511.1 308.7,1506.5 309.2,1501.9 309.7,1497.3 310.2,1492.8 310.7,1488.3 311.2,1483.9 311.7,1482.2 312.2,1482.2 312.7,1482.3 313.2,1482.5 313.7,1482.6 314.2,1486.0 314.7,1490.2 315.2,1494.5 315.7,1498.6 316.2,1502.8 316.7,1506.9 317.2,1511.0 317.7,1515.1 318.2,1519.1 318.7,1523.1 319.2,1527.1 319.7,1531.1 320.2,1535.0 320.7,1538.9 321.2,1542.8 321.7,1546.7 322.2,1550.6 322.7,1554.5 323.2,1551.1 323.7,1547.8 324.2,1544.4 324.7,1541.1 325.2,1535.4 325.7,1528.1 326.2,1520.8 326.7,1513.5 327.2,1506.2 327.7,1499.0 328.2,1491.8 328.7,1484.6 329.2,1477.4 329.7,1470.2 330.2,1463.1 330.7,1456.0 331.2,1448.9 331.7,1441.8 332.2,1434.8 332.7,1427.7 333.2,1420.6 333.7,1413.5 334.2,1412.2 334.7,1412.3 335.2,1412.4 335.7,1412.4 336.2,1412.4 336.7,1420.6 337.2,1428.8 337.7,1436.9 338.2,1445.0 338.7,1453.1 339.2,1461.1 339.7,1469.2 340.2,1477.2 340.7,1485.2 341.2,1493.3 341.7,1501.4 342.2,1509.6 342.7,1517.8 343.2,1526.1 343.7,1534.4 344.2,1542.8 344.7,1551.3 345.2,1559.8 345.7,1568.3 346.2,1571.9 346.7,1572.2 347.2,1572.4 347.7,1572.7 348.2,1572.9 348.7,1573.1 349.2,1573.2 349.7,1573.3 350.2,1573.3 350.7,1573.3 351.2,1573.3 351.7,1573.2 352.2,1573.0 352.7,1572.9 353.2,1572.7 353.7,1572.5 354.2,1572.4 354.7,1572.3 355.2,1572.1 355.7,1572.1 356.2,1572.0 356.7,1572.0 357.2,1572.0 357.7,1572.1 358.2,1572.1 358.7,1572.2 359.2,1572.3 359.7,1572.4 360.2,1572.5 360.7,1572.6 361.2,1572.6 361.7,1572.6 362.2,1572.6 362.7,1572.6 363.2,1572.5 363.7,1572.5 364.2,1572.3 364.7,1572.2 365.2,1572.0 365.7,1571.8 366.2,1571.5 366.7,1571.2 367.2,1570.9 367.7,1570.5 368.2,1570.0 368.7,1569.6 369.2,1569.0 369.7,1568.5 370.2,1567.9 370.7,1567.2 371.2,1566.6 371.7,1566.0 372.2,1565.5 372.7,1565.0 373.2,1564.6 373.7,1564.3 374.2,1564.1 374.7,1564.1 375.2,1564.2 375.7,1564.4 376.2,1564.8 376.7,1565.3 377.2,1565.9 377.7,1566.5 378.2,1567.3 378.7,1568.0 379.2,1568.7 379.7,1569.4 380.2,1570.1 380.7,1570.6 381.2,1571.1 381.7,1571.5 382.2,1571.8 382.7,1572.1 383.2,1572.2 383.7,1572.3 384.2,1572.2 384.7,1572.2 385.2,1572.1 385.7,1572.0 386.2,1571.9 386.7,1571.7 387.2,1571.6 387.7,1571.6 388.2,1571.5 388.7,1571.5 389.2,1571.6 389.7,1571.6 390.2,1571.7 390.7,1571.9 391.2,1572.0 391.7,1572.1 392.2,1572.3 392.7,1572.4 393.2,1572.5 393.7,1572.6 394.2,1572.7 394.7,1572.7 395.2,1572.7 395.7,1572.7 396.2,1572.6 396.7,1572.6 397.2,1572.5 397.7,1572.4 398.2,1572.3 398.7,1572.3 399.2,1572.3 399.7,1572.2 400.2,1572.2 400.7,1572.3 401.2,1572.3 401.7,1572.4 402.2,1572.5 402.7,1572.6 403.2,1572.7 403.7,1572.8 404.2,1572.9 404.7,1573.0 405.2,1573.0 405.7,1573.0 406.2,1573.0 406.7,1572.9 407.2,1572.8 407.7,1572.7 408.2,1572.6 408.7,1572.4 409.2,1572.3 409.7,1572.2 410.2,1572.0 410.7,1571.9 411.2,1571.8 411.7,1571.8 412.2,1571.8 412.7,1571.8 413.2,1571.8 413.7,1571.8 414.2,1571.9 414.7,1572.0 415.2,1572.0 415.7,1572.1 416.2,1572.2 416.7,1572.3 417.2,1572.3 417.7,1572.4 418.2,1572.4 418.7,1572.5 419.2,1572.5 419.7,1572.5 420.2,1572.5 420.7,1572.6 421.2,1572.6 421.7,1572.6 422.2,1572.6 422.7,1572.7 423.2,1572.7 423.7,1572.8 424.2,1572.8 424.7,1572.8 425.2,1572.8 425.7,1572.9 426.2,1572.9 426.7,1572.8 427.2,1572.8 427.7,1572.7 428.2,1572.6 428.7,1572.5 429.2,1572.4 429.7,1572.3 430.2,1572.2 430.7,1572.1 431.2,1572.0 431.7,1572.0 432.2,1571.9 432.7,1571.9 433.2,1571.9 433.7,1572.0 434.2,1572.0 434.7,1572.1 435.2,1572.2 435.7,1572.3 436.2,1572.4 436.7,1572.5 437.2,1572.6 437.7,1572.6 438.2,1572.7 438.7,1566.3 439.2,1558.2 439.7,1550.1 440.2,1542.0 440.7,1533.9 441.2,1525.7 441.7,1517.6 442.2,1509.4 442.7,1501.3 443.2,1493.2 443.7,1485.1 444.2,1477.1 444.7,1469.1 445.2,1461.2 445.7,1453.2 446.2,1445.3 446.7,1437.5 447.2,1429.6 447.7,1421.8 448.2,1413.9 448.7,1406.0 449.2,1399.8 449.7,1399.9 450.2,1399.9 450.7,1400.0 451.2,1399.9 451.7,1402.9 452.2,1410.2 452.7,1417.5 453.2,1424.8 453.7,1432.0 454.2,1439.3 454.7,1446.5 455.2,1453.8 455.7,1461.0 456.2,1468.3 456.7,1475.6 457.2,1483.0 457.7,1490.4 458.2,1497.8 458.7,1505.3 459.2,1512.7 459.7,1520.2 460.2,1527.8 460.7,1535.3 461.2,1542.8 461.7,1550.3 462.2,1557.9 462.7,1565.4 463.2,1572.3 463.7,1572.4 464.2,1572.4 464.7,1572.5 465.2,1572.6 465.7,1572.6 466.2,1572.7 466.7,1572.7 467.2,1572.8 467.7,1572.8 468.2,1572.9 468.7,1572.9 469.2,1572.9 469.7,1573.0 470.2,1573.0 470.7,1573.0 471.2,1573.0 471.7,1572.9 472.2,1572.8 472.7,1572.8 473.2,1572.7 473.7,1572.5 474.2,1572.4 474.7,1572.3 475.2,1572.2 475.7,1572.0 476.2,1571.9 476.7,1571.9 477.2,1571.8 477.7,1571.8 478.2,1571.8 478.7,1571.9 479.2,1571.9 479.7,1572.0 480.2,1572.1 480.7,1572.3 481.2,1572.4 481.7,1572.5 482.2,1572.6 482.7,1572.7 483.2,1572.7 483.7,1572.7 484.2,1572.7 484.7,1572.7 485.2,1572.6 485.7,1572.5 486.2,1568.5 486.7,1564.4 487.2,1560.4 487.7,1556.3 488.2,1552.2 488.7,1548.2 489.2,1544.2 489.7,1540.2 490.2,1536.3 490.7,1532.4 491.2,1528.5 491.7,1524.7 492.2,1520.8 492.7,1517.0 493.2,1513.2 493.7,1509.4 494.2,1505.5 494.7,1501.6 495.2,1497.7 495.7,1493.8 496.2,1489.8 496.7,1489.8 497.2,1489.7 497.7,1489.6 498.2,1489.5 498.7,1490.2 499.2,1494.0 499.7,1497.9 500.2,1501.7 500.7,1505.6 501.2,1509.5 501.7,1513.4 502.2,1517.3 502.7,1521.2 503.2,1525.2 503.7,1529.2 504.2,1533.2 504.7,1537.2 505.2,1541.2 505.7,1545.2 506.2,1549.2 506.7,1553.2 507.2,1557.1 507.7,1557.9 508.2,1556.5 508.7,1555.1 509.2,1552.9 509.7,1547.5 510.2,1542.2 510.7,1536.9 511.2,1531.5 511.7,1526.2 512.2,1521.0 512.7,1515.7 513.2,1510.5 513.7,1505.2 514.2,1500.0 514.7,1494.8 515.2,1489.5 515.7,1484.3 516.2,1479.0 516.7,1473.7 517.2,1468.4 517.7,1463.0 518.2,1457.7 518.7,1455.5 519.2,1455.4 519.7,1455.2 520.2,1455.1 520.7,1455.0 521.2,1459.0 521.7,1464.0 522.2,1469.1 522.7,1474.2 523.2,1479.3 523.7,1484.4 524.2,1489.6 524.7,1494.8 525.2,1500.0 525.7,1505.3 526.2,1510.5 526.7,1515.8 527.2,1521.1 527.7,1526.3 528.2,1531.6 528.7,1536.9 529.2,1542.1 529.7,1547.3 530.2,1552.5 530.7,1557.8 531.2,1563.0 531.7,1568.2 532.2,1572.3 532.7,1572.3 533.2,1572.3 533.7,1572.4 534.2,1572.4 534.7,1572.4 535.2,1572.5 535.7,1572.6 536.2,1572.6 536.7,1572.7 537.2,1572.8 537.7,1572.9 538.2,1572.9 538.7,1572.9 539.2,1572.9 539.7,1572.9 540.2,1572.9 540.7,1572.8 541.2,1572.7 541.7,1572.6 542.2,1572.5 542.7,1572.3 543.2,1572.2 543.7,1572.1 544.2,1572.0 544.7,1571.9 545.2,1571.9 545.7,1571.9 546.2,1571.9 546.7,1572.0 547.2,1572.1 547.7,1572.2 548.2,1572.3 548.7,1572.4 549.2,1572.5 549.7,1572.7 550.2,1572.7 550.7,1572.8 551.2,1572.8 551.7,1572.8 552.2,1572.7 552.7,1572.7 553.2,1572.5 553.7,1572.4 554.2,1572.3 554.7,1572.1 555.2,1572.0 555.7,1571.9 556.2,1571.8 556.7,1571.7 557.2,1571.7 557.7,1571.7 558.2,1571.7 558.7,1571.8 559.2,1571.9 559.7,1572.1 560.2,1572.3 560.7,1572.4 561.2,1572.6 561.7,1572.8 562.2,1573.0 562.7,1573.1 563.2,1573.2 563.7,1573.3 564.2,1573.4 564.7,1573.4 565.2,1573.3 565.7,1573.3 566.2,1573.2 566.7,1573.1 567.2,1572.9 567.7,1572.8 568.2,1572.6 568.7,1572.5 569.2,1572.3 569.7,1572.2 570.2,1572.1 570.7,1571.9 571.2,1571.8 571.7,1571.8 572.2,1571.7 572.7,1571.0 573.2,1566.0 573.7,1560.9 574.2,1555.9 574.7,1550.9 575.2,1545.9 575.7,1541.0 576.2,1536.0 576.7,1531.1 577.2,1526.2 577.7,1521.3 578.2,1516.4 578.7,1511.6 579.2,1506.8 579.7,1501.9 580.2,1497.1 580.7,1492.3 581.2,1487.5 581.7,1482.6 582.2,1477.7 582.7,1472.8 583.2,1467.8 583.7,1466.8 584.2,1466.7 584.7,1466.6 585.2,1466.4 585.7,1466.2 586.2,1470.8 586.7,1475.4 587.2,1479.9 587.7,1484.5 588.2,1489.1 588.7,1493.7 589.2,1498.3 589.7,1503.0 590.2,1507.8 590.7,1512.6 591.2,1517.5 591.7,1522.4 592.2,1527.3 592.7,1532.4 593.2,1537.4 593.7,1542.4 594.2,1547.5 594.7,1552.5 595.2,1557.6 595.7,1562.5 596.2,1567.5 596.7,1572.4 597.2,1573.3 597.7,1573.3 598.2,1573.2 598.7,1573.0 599.2,1572.9 599.7,1572.7 600.2,1572.4 600.7,1572.2 601.2,1572.0 601.7,1571.8 602.2,1571.6 602.7,1571.5 603.2,1571.5 603.7,1571.4 604.2,1571.5 604.7,1571.5 605.2,1571.6 605.7,1571.8 606.2,1572.0 606.7,1572.2 607.2,1572.4 607.7,1572.6 608.2,1572.8 608.7,1572.9 609.2,1573.1 609.7,1573.2 610.2,1573.3 610.7,1573.4 611.2,1573.4 611.7,1573.4 612.2,1573.4 612.7,1573.3 613.2,1573.2 613.7,1573.1 614.2,1573.0 614.7,1572.9 615.2,1572.7 615.7,1572.5 616.2,1572.4 616.7,1572.2 617.2,1572.0 617.7,1571.8 618.2,1571.7 618.7,1571.5 619.2,1571.4 619.7,1571.3 620.2,1571.2 620.7,1571.1 621.2,1571.1 621.7,1571.2 622.2,1571.2 622.7,1571.4 623.2,1571.5 623.7,1571.7 624.2,1572.0 624.7,1572.2 625.2,1572.5 625.7,1572.8 626.2,1573.1 626.7,1573.3 627.2,1573.5 627.7,1573.7 628.2,1573.9 628.7,1573.9 629.2,1573.9 629.7,1573.9 630.2,1573.8 630.7,1573.6 631.2,1573.4 631.7,1573.1 632.2,1572.8 632.7,1572.5 633.2,1572.2 633.7,1571.9 634.2,1571.6 634.7,1571.4 635.2,1571.3 635.7,1571.2 636.2,1571.1 636.7,1571.2 637.2,1571.3 637.7,1571.4 638.2,1571.6 638.7,1571.8 639.2,1572.1 639.7,1572.3 640.2,1572.5 640.7,1572.8 641.2,1572.9 641.7,1573.1 642.2,1573.2 642.7,1573.2 643.2,1573.2 643.7,1573.1 644.2,1573.0 644.7,1572.9 645.2,1572.8 645.7,1572.6 646.2,1572.4 646.7,1572.2 647.2,1572.1 647.7,1571.9 648.2,1571.8 648.7,1571.8 649.2,1571.7 649.7,1571.7 650.2,1571.8 650.7,1571.8 651.2,1571.9 651.7,1572.0 652.2,1572.1 652.7,1572.3 653.2,1572.4 653.7,1572.5 654.2,1572.6 654.7,1572.7 655.2,1572.8 655.7,1572.9 656.2,1573.0 656.7,1573.0 657.2,1573.1 657.7,1573.1 658.2,1573.1 658.7,1573.1 659.2,1573.0 659.7,1573.0 660.2,1572.9 660.7,1572.9 661.2,1572.8 661.7,1572.7 662.2,1572.5 662.7,1572.4 663.2,1572.2 663.7,1572.1 664.2,1571.9 664.7,1571.7 665.2,1571.6 665.7,1571.5 666.2,1571.4 666.7,1571.3 667.2,1571.3 667.7,1571.3 668.2,1571.3 668.7,1571.4 669.2,1571.6 669.7,1571.7 670.2,1572.0 670.7,1572.2 671.2,1572.5 671.7,1572.7 672.2,1573.0 672.7,1573.2 673.2,1573.4 673.7,1573.5 674.2,1573.6 674.7,1573.7 675.2,1573.6 675.7,1573.6 676.2,1573.5 676.7,1573.3 677.2,1573.1 677.7,1572.9 678.2,1572.7 678.7,1572.4 679.2,1572.2 679.7,1572.0 680.2,1571.9 680.7,1571.8 681.2,1571.7 681.7,1571.6 682.2,1571.7 682.7,1571.7 683.2,1571.8 683.7,1571.9 684.2,1572.0 684.7,1572.1 685.2,1572.3 685.7,1572.4 686.2,1572.5 686.7,1572.6 687.2,1572.6 687.7,1572.6 688.2,1572.6 688.7,1572.6 689.2,1572.5 689.7,1572.4 690.2,1572.4 690.7,1572.3 691.2,1572.2 691.7,1572.2 692.2,1572.1 692.7,1572.1 693.2,1572.1 693.7,1572.1 694.2,1572.2 694.7,1572.2 695.2,1572.3 695.7,1572.4 696.2,1572.5 696.7,1572.5 697.2,1572.6 697.7,1572.7 698.2,1572.7 698.7,1572.7 699.2,1572.7 699.7,1572.7 700.2,1572.7 700.7,1572.7 701.2,1572.6 701.7,1572.6 702.2,1572.5 702.7,1572.4 703.2,1572.4 703.7,1572.3 704.2,1572.2 704.7,1572.1 705.2,1572.0 705.7,1571.8 706.2,1571.6 706.7,1571.3 707.2,1571.0 707.7,1570.6 708.2,1570.1 708.7,1569.6 709.2,1569.1 709.7,1568.5 710.2,1567.9 710.7,1567.3 711.2,1566.7 711.7,1566.1 712.2,1565.6 712.7,1565.3 713.2,1565.0 713.7,1564.8 714.2,1564.8 714.7,1564.9 715.2,1565.2 715.7,1565.6 716.2,1566.0 716.7,1566.6 717.2,1567.2 717.7,1567.9 718.2,1568.5 718.7,1569.2 719.2,1569.7 719.7,1570.3 720.2,1570.7 720.7,1571.1 721.2,1571.5 721.7,1571.7 722.2,1571.9 722.7,1572.0 723.2,1572.1 723.7,1572.1 724.2,1572.1 724.7,1572.1 725.2,1572.2 725.7,1572.2 726.2,1572.2 726.7,1572.2 727.2,1572.3 727.7,1572.4 728.2,1572.4 728.7,1572.5 729.2,1572.5 729.7,1572.6 730.2,1572.6 730.7,1572.6 731.2,1572.6 731.7,1572.5 732.2,1572.4 732.7,1572.3 733.2,1572.2 733.7,1572.1 734.2,1572.0 734.7,1571.9 735.2,1571.8 735.7,1571.7 736.2,1571.6 736.7,1571.6 737.2,1571.7 737.7,1571.7 738.2,1571.8 738.7,1572.0 739.2,1572.1 739.7,1572.3 740.2,1572.5 740.7,1572.6 741.2,1572.8 741.7,1572.9 742.2,1573.1 742.7,1573.1 743.2,1573.2 743.7,1573.2 744.2,1573.2 744.7,1573.2 745.2,1573.1 745.7,1573.0 746.2,1572.9 746.7,1572.7 747.2,1572.6 747.7,1572.5 748.2,1572.4 748.7,1572.3 749.2,1572.2 749.7,1572.2 750.2,1572.1 750.7,1572.1 751.2,1572.1 751.7,1572.1 752.2,1572.1 752.7,1572.1 753.2,1572.2 753.7,1572.2 754.2,1572.2 754.7,1572.2 755.2,1572.2 755.7,1572.2 756.2,1572.1 756.7,1572.1 757.2,1572.1 757.7,1572.1 758.2,1572.1 758.7,1572.2 759.2,1572.2 759.7,1572.2 760.2,1572.3 760.7,1572.4 761.2,1572.4 761.7,1572.5 762.2,1572.6 762.7,1572.6 763.2,1572.7 763.7,1572.7 764.2,1572.7 764.7,1572.7 765.2,1572.7 765.7,1572.6 766.2,1572.6 766.7,1572.5 767.2,1572.4 767.7,1572.4 768.2,1572.3 768.7,1572.3 769.2,1572.2 769.7,1572.2 770.2,1572.2 770.7,1572.3 771.2,1572.4 771.7,1572.4 772.2,1572.5 772.7,1572.0 773.2,1567.9 773.7,1563.9 774.2,1559.9 774.7,1555.8 775.2,1551.7 775.7,1547.5 776.2,1543.3 776.7,1539.1 777.2,1534.9 777.7,1530.6 778.2,1526.3 778.7,1522.0 779.2,1517.7 779.7,1513.4 780.2,1509.1 780.7,1504.9 781.2,1500.7 781.7,1496.5 782.2,1492.4 782.7,1488.3 783.2,1484.3 783.7,1480.3 784.2,1480.4 784.7,1480.6 785.2,1480.8 785.7,1481.0 786.2,1482.0 786.7,1486.1 787.2,1490.2 787.7,1494.3 788.2,1498.3 788.7,1502.3 789.2,1506.3 789.7,1510.2 790.2,1514.1 790.7,1517.9 791.2,1521.8 791.7,1525.6 792.2,1529.5 792.7,1533.3 793.2,1537.1 793.7,1541.0 794.2,1544.8 794.7,1548.7 795.2,1552.6 795.7,1556.5 796.2,1560.4 796.7,1564.4 797.2,1568.3 797.7,1572.2 798.2,1572.2 798.7,1572.2 799.2,1572.1 799.7,1572.1 800.2,1572.1 800.7,1572.0 801.2,1572.0 801.7,1572.0 802.2,1572.0 802.7,1571.9 803.2,1572.0 803.7,1572.0 804.2,1572.0 804.7,1572.1 805.2,1572.1 805.7,1572.2 806.2,1572.3 806.7,1572.4 807.2,1572.5 807.7,1572.6 808.2,1572.7 808.7,1572.8 809.2,1572.8 809.7,1572.8 810.2,1572.8 810.7,1572.8 811.2,1572.8 811.7,1572.7 812.2,1572.6 812.7,1572.5 813.2,1572.5 813.7,1572.4 814.2,1572.3 814.7,1572.3 815.2,1572.3 815.7,1572.3 816.2,1572.3 816.7,1572.3 817.2,1572.4 817.7,1572.5 818.2,1572.5 818.7,1572.6 819.2,1572.7 819.7,1572.7 820.2,1572.7 820.7,1572.7 821.2,1572.7 821.7,1572.6 822.2,1572.6 822.7,1572.5 823.2,1572.3 823.7,1572.2 824.2,1572.1 824.7,1572.0 825.2,1571.9 825.7,1571.8 826.2,1571.8 826.7,1571.7 827.2,1571.8 827.7,1571.8 828.2,1571.9 828.7,1572.0 829.2,1572.1 829.7,1572.2 830.2,1572.3 830.7,1572.5 831.2,1572.6 831.7,1572.7 832.2,1572.8 832.7,1572.8 833.2,1572.8 833.7,1572.8 834.2,1572.8 834.7,1572.8 835.2,1572.7 835.7,1572.6 836.2,1572.6 836.7,1572.5 837.2,1572.4 837.7,1572.4 838.2,1572.4 838.7,1572.4 839.2,1572.4 839.7,1572.5 840.2,1572.5 840.7,1572.6 841.2,1572.6 841.7,1572.7 842.2,1572.8 842.7,1572.8 843.2,1572.8 843.7,1572.8 844.2,1572.7 844.7,1572.6 845.2,1572.5 845.7,1572.4 846.2,1572.3 846.7,1570.6 847.2,1562.6 847.7,1554.6 848.2,1546.7 848.7,1538.8 849.2,1530.9 849.7,1523.0 850.2,1515.2 850.7,1507.4 851.2,1499.7 851.7,1491.9 852.2,1484.2 852.7,1476.6 853.2,1468.9 853.7,1461.2 854.2,1453.5 854.7,1445.8 855.2,1438.1 855.7,1430.3 856.2,1422.6 856.7,1414.8 857.2,1411.7 857.7,1411.7 858.2,1411.7 858.7,1411.7 859.2,1411.7 859.7,1417.4 860.2,1424.5 860.7,1431.7 861.2,1438.8 861.7,1446.0 862.2,1453.1 862.7,1460.3 863.2,1467.4 863.7,1474.5 864.2,1481.7 864.7,1488.8 865.2,1495.9 865.7,1503.0 866.2,1510.1 866.7,1517.2 867.2,1524.3 867.7,1531.4" fill="none" stroke="#231F20" stroke-width="4.0" stroke-linejoin="round"/>
<polyline points="185.2,1521.7 185.7,1516.0 186.2,1510.3 186.7,1504.5 187.2,1498.8 187.7,1493.0 188.2,1487.2 188.7,1481.5 189.2,1475.7 189.7,1469.9 190.2,1467.5 190.7,1467.5 191.2,1467.4 191.7,1467.4 192.2,1467.4 192.7,1471.2 193.2,1475.9 193.7,1480.7 194.2,1485.5 194.7,1490.3 195.2,1495.1 195.7,1500.0 196.2,1504.8 196.7,1509.6 197.2,1514.5 197.7,1519.3 198.2,1524.1 198.7,1529.0 199.2,1533.8 199.7,1538.6 200.2,1543.3 200.7,1548.1 201.2,1552.8 201.7,1557.5 202.2,1562.2 202.7,1566.9 203.2,1571.6 203.7,1571.5 204.2,1571.3 204.7,1571.2 205.2,1571.1 205.7,1570.9 206.2,1570.8 206.7,1570.7 207.2,1570.6 207.7,1570.5 208.2,1570.4 208.7,1570.3 209.2,1570.3 209.7,1570.3 210.2,1570.4 210.7,1570.4 211.2,1570.5 211.7,1570.6 212.2,1570.8 212.7,1570.9 213.2,1571.1 213.7,1571.3 214.2,1571.4 214.7,1571.6 215.2,1571.8 215.7,1572.0 216.2,1572.1 216.7,1572.2 217.2,1572.3 217.7,1572.4 218.2,1572.4 218.7,1572.4 219.2,1572.4 219.7,1572.4 220.2,1572.3 220.7,1572.2 221.2,1572.1 221.7,1572.0 222.2,1571.8 222.7,1571.7 223.2,1571.5 223.7,1571.4 224.2,1571.2 224.7,1571.1 225.2,1571.0 225.7,1570.9 226.2,1570.8 226.7,1570.8 227.2,1570.7 227.7,1570.7 228.2,1570.7 228.7,1570.8 229.2,1570.9 229.7,1571.0 230.2,1571.1 230.7,1571.2 231.2,1571.3 231.7,1571.4 232.2,1571.5 232.7,1571.7 233.2,1571.8 233.7,1571.8 234.2,1571.9 234.7,1572.0 235.2,1572.0 235.7,1572.0 236.2,1572.0 236.7,1571.9 237.2,1571.8 237.7,1571.7 238.2,1571.6 238.7,1571.5 239.2,1571.4 239.7,1571.2 240.2,1571.1 240.7,1571.0 241.2,1570.9 241.7,1570.7 242.2,1570.6 242.7,1570.6 243.2,1570.5 243.7,1570.5 244.2,1570.5 244.7,1570.5 245.2,1570.6 245.7,1570.7 246.2,1570.8 246.7,1570.9 247.2,1571.0 247.7,1571.2 248.2,1571.4 248.7,1571.5 249.2,1571.7 249.7,1571.8 250.2,1570.4 250.7,1566.6 251.2,1562.8 251.7,1559.0 252.2,1555.1 252.7,1551.2 253.2,1547.3 253.7,1543.3 254.2,1539.4 254.7,1535.4 255.2,1531.3 255.7,1527.3 256.2,1523.2 256.7,1519.2 257.2,1515.1 257.7,1511.0 258.2,1506.9 258.7,1502.8 259.2,1498.8 259.7,1494.7 260.2,1490.6 260.7,1488.2 261.2,1488.1 261.7,1488.1 262.2,1488.0 262.7,1488.0 263.2,1490.1 263.7,1493.7 264.2,1497.3 264.7,1501.0 265.2,1504.6 265.7,1508.2 266.2,1511.9 266.7,1515.6 267.2,1519.2 267.7,1522.9 268.2,1526.5 268.7,1530.2 269.2,1533.8 269.7,1537.4 270.2,1541.1 270.7,1544.7 271.2,1548.3 271.7,1551.8 272.2,1555.4 272.7,1559.0 273.2,1562.5 273.7,1566.1 274.2,1569.6 274.7,1571.7 275.2,1571.6 275.7,1571.6 276.2,1571.6 276.7,1571.5 277.2,1571.5 277.7,1571.4 278.2,1571.4 278.7,1571.3 279.2,1571.3 279.7,1571.3 280.2,1571.3 280.7,1571.3 281.2,1571.2 281.7,1571.2 282.2,1571.2 282.7,1571.2 283.2,1571.2 283.7,1571.2 284.2,1571.2 284.7,1571.3 285.2,1571.3 285.7,1571.3 286.2,1571.3 286.7,1571.3 287.2,1571.3 287.7,1571.3 288.2,1571.4 288.7,1571.4 289.2,1571.4 289.7,1571.4 290.2,1571.5 290.7,1571.5 291.2,1571.5 291.7,1571.6 292.2,1571.6 292.7,1571.6 293.2,1571.7 293.7,1571.7 294.2,1571.7 294.7,1571.7 295.2,1571.8 295.7,1571.8 296.2,1571.8 296.7,1571.8 297.2,1571.7 297.7,1571.7 298.2,1571.7 298.7,1571.6 299.2,1571.5 299.7,1571.5 300.2,1571.4 300.7,1571.3 301.2,1571.2 301.7,1571.1 302.2,1571.0 302.7,1570.9 303.2,1570.9 303.7,1570.8 304.2,1570.7 304.7,1570.7 305.2,1570.7 305.7,1570.7 306.2,1570.7 306.7,1570.7 307.2,1570.8 307.7,1570.8 308.2,1570.9 308.7,1571.1 309.2,1571.2 309.7,1571.3 310.2,1571.4 310.7,1571.6 311.2,1571.7 311.7,1571.9 312.2,1572.0 312.7,1572.1 313.2,1572.2 313.7,1572.2 314.2,1572.3 314.7,1572.3 315.2,1572.3 315.7,1572.2 316.2,1572.1 316.7,1572.0 317.2,1571.9 317.7,1571.7 318.2,1571.5 318.7,1571.3 319.2,1571.0 319.7,1570.8 320.2,1570.5 320.7,1570.2 321.2,1569.9 321.7,1569.5 322.2,1569.2 322.7,1568.9 323.2,1568.6 323.7,1568.3 324.2,1568.0 324.7,1567.8 325.2,1567.6 325.7,1567.4 326.2,1567.2 326.7,1567.1 327.2,1567.0 327.7,1566.9 328.2,1566.9 328.7,1566.9 329.2,1567.0 329.7,1567.1 330.2,1567.2 330.7,1567.4 331.2,1567.5 331.7,1567.7 332.2,1567.9 332.7,1568.1 333.2,1568.3 333.7,1568.5 334.2,1568.7 334.7,1568.9 335.2,1569.0 335.7,1569.1 336.2,1569.2 336.7,1569.2 337.2,1569.3 337.7,1569.3 338.2,1569.3 338.7,1569.3 339.2,1569.3 339.7,1569.3 340.2,1569.3 340.7,1569.3 341.2,1569.4 341.7,1569.4 342.2,1569.5 342.7,1569.6 343.2,1569.7 343.7,1569.9 344.2,1570.1 344.7,1570.2 345.2,1570.4 345.7,1570.5 346.2,1570.6 346.7,1570.7 347.2,1570.8 347.7,1570.7 348.2,1570.6 348.7,1570.4 349.2,1570.2 349.7,1569.8 350.2,1569.3 350.7,1568.7 351.2,1567.9 351.7,1567.1 352.2,1566.2 352.7,1565.2 353.2,1564.1 353.7,1563.0 354.2,1561.8 354.7,1560.7 355.2,1559.6 355.7,1558.5 356.2,1557.5 356.7,1556.7 357.2,1556.0 357.7,1555.4 358.2,1555.0 358.7,1554.8 359.2,1554.8 359.7,1555.0 360.2,1555.4 360.7,1555.9 361.2,1556.6 361.7,1557.4 362.2,1558.4 362.7,1559.4 363.2,1560.5 363.7,1561.6 364.2,1562.7 364.7,1563.8 365.2,1564.9 365.7,1565.9 366.2,1566.9 366.7,1567.7 367.2,1568.5 367.7,1569.2 368.2,1569.8 368.7,1570.3 369.2,1570.7 369.7,1571.0 370.2,1571.2 370.7,1571.3 371.2,1571.4 371.7,1571.4 372.2,1571.3 372.7,1571.2 373.2,1571.1 373.7,1570.9 374.2,1570.6 374.7,1570.3 375.2,1570.0 375.7,1569.6 376.2,1569.1 376.7,1568.6 377.2,1568.1 377.7,1567.5 378.2,1566.8 378.7,1566.1 379.2,1565.4 379.7,1564.6 380.2,1563.8 380.7,1563.1 381.2,1562.4 381.7,1561.8 382.2,1561.3 382.7,1560.9 383.2,1560.6 383.7,1560.6 384.2,1560.6 384.7,1560.9 385.2,1561.2 385.7,1561.8 386.2,1562.4 386.7,1563.1 387.2,1563.9 387.7,1564.7 388.2,1565.5 388.7,1566.3 389.2,1567.1 389.7,1567.7 390.2,1568.3 390.7,1568.8 391.2,1569.3 391.7,1569.6 392.2,1569.9 392.7,1570.1 393.2,1570.2 393.7,1566.8 394.2,1562.5 394.7,1558.1 395.2,1553.7 395.7,1549.2 396.2,1544.8 396.7,1540.4 397.2,1536.0 397.7,1531.6 398.2,1527.2 398.7,1522.8 399.2,1518.4 399.7,1514.1 400.2,1509.7 400.7,1505.4 401.2,1501.1 401.7,1496.8 402.2,1492.5 402.7,1488.2 403.2,1483.9 403.7,1479.6 404.2,1478.8 404.7,1478.9 405.2,1479.0 405.7,1479.1 406.2,1479.3 406.7,1483.8 407.2,1488.3 407.7,1492.8 408.2,1497.3 408.7,1501.7 409.2,1506.2 409.7,1510.6 410.2,1515.0 410.7,1519.4 411.2,1523.8 411.7,1528.2 412.2,1532.6 412.7,1536.9 413.2,1541.2 413.7,1545.5 414.2,1549.8 414.7,1554.1 415.2,1558.4 415.7,1562.7 416.2,1567.0 416.7,1571.2 417.2,1571.0 417.7,1567.0 418.2,1562.0 418.7,1557.0 419.2,1552.0 419.7,1547.1 420.2,1542.2 420.7,1537.3 421.2,1532.4 421.7,1527.5 422.2,1522.7 422.7,1517.8 423.2,1513.0 423.7,1508.3 424.2,1503.5 424.7,1498.7 425.2,1494.0 425.7,1489.3 426.2,1484.5 426.7,1479.8 427.2,1475.0 427.7,1470.3 428.2,1468.4 428.7,1468.5 429.2,1468.6 429.7,1468.6 430.2,1468.6 430.7,1472.3 431.2,1476.8 431.7,1481.3 432.2,1485.8 432.7,1490.3 433.2,1494.8 433.7,1499.2 434.2,1503.7 434.7,1508.1 435.2,1512.5 435.7,1517.0 436.2,1521.4 436.7,1525.9 437.2,1530.4 437.7,1534.9 438.2,1539.5 438.7,1544.0 439.2,1548.6 439.7,1553.3 440.2,1557.9 440.7,1562.6 441.2,1567.3 441.7,1571.1 442.2,1571.3 442.7,1571.5 443.2,1571.7 443.7,1571.9 444.2,1572.1 444.7,1572.2 445.2,1572.4 445.7,1572.5 446.2,1572.6 446.7,1572.7 447.2,1572.7 447.7,1572.7 448.2,1572.7 448.7,1572.6 449.2,1572.5 449.7,1572.3 450.2,1572.2 450.7,1571.9 451.2,1571.7 451.7,1571.5 452.2,1571.2 452.7,1571.0 453.2,1570.7 453.7,1570.5 454.2,1570.3 454.7,1570.1 455.2,1569.9 455.7,1569.8 456.2,1569.7 456.7,1569.7 457.2,1569.7 457.7,1569.7 458.2,1569.8 458.7,1570.0 459.2,1570.1 459.7,1570.4 460.2,1570.6 460.7,1570.9 461.2,1571.1 461.7,1571.4 462.2,1571.7 462.7,1571.9 463.2,1572.2 463.7,1572.4 464.2,1572.6 464.7,1572.8 465.2,1572.9 465.7,1573.0 466.2,1573.0 466.7,1573.0 467.2,1573.0 467.7,1572.9 468.2,1572.7 468.7,1572.6 469.2,1572.4 469.7,1572.2 470.2,1571.9 470.7,1571.7 471.2,1571.5 471.7,1571.2 472.2,1571.0 472.7,1570.8 473.2,1570.6 473.7,1570.5 474.2,1570.4 474.7,1570.3 475.2,1570.2 475.7,1570.2 476.2,1570.3 476.7,1570.3 477.2,1570.4 477.7,1570.6 478.2,1570.7 478.7,1570.9 479.2,1571.1 479.7,1571.2 480.2,1571.4 480.7,1571.6 481.2,1571.8 481.7,1571.9 482.2,1572.1 482.7,1572.2 483.2,1572.2 483.7,1572.3 484.2,1572.3 484.7,1572.3 485.2,1572.2 485.7,1572.1 486.2,1572.0 486.7,1571.9 487.2,1571.8 487.7,1571.6 488.2,1571.5 488.7,1571.3 489.2,1571.1 489.7,1571.0 490.2,1570.9 490.7,1570.7 491.2,1570.6 491.7,1570.6 492.2,1570.5 492.7,1570.5 493.2,1570.5 493.7,1570.6 494.2,1570.6 494.7,1570.7 495.2,1570.8 495.7,1570.9 496.2,1571.1 496.7,1571.2 497.2,1571.4 497.7,1571.5 498.2,1571.6 498.7,1571.8 499.2,1571.9 499.7,1572.0 500.2,1572.1 500.7,1572.2 501.2,1572.2 501.7,1572.2 502.2,1572.2 502.7,1572.2 503.2,1572.2 503.7,1572.1 504.2,1572.0 504.7,1572.0 505.2,1571.9 505.7,1571.8 506.2,1571.6 506.7,1571.5 507.2,1571.4 507.7,1571.3 508.2,1571.2 508.7,1571.1 509.2,1571.1 509.7,1571.0 510.2,1571.0 510.7,1570.9 511.2,1570.9 511.7,1570.9 512.2,1570.9 512.7,1570.9 513.2,1570.9 513.7,1571.0 514.2,1571.0 514.7,1571.0 515.2,1571.1 515.7,1571.1 516.2,1571.2 516.7,1571.2 517.2,1571.3 517.7,1571.3 518.2,1571.4 518.7,1571.4 519.2,1571.4 519.7,1571.5 520.2,1571.5 520.7,1571.5 521.2,1571.5 521.7,1571.5 522.2,1571.6 522.7,1571.6 523.2,1571.6 523.7,1571.6 524.2,1571.6 524.7,1571.6 525.2,1571.6 525.7,1571.6 526.2,1571.6 526.7,1571.6 527.2,1571.6 527.7,1571.6 528.2,1571.6 528.7,1571.6 529.2,1571.6 529.7,1571.5 530.2,1571.5 530.7,1571.5 531.2,1571.4 531.7,1571.4 532.2,1571.3 532.7,1571.3 533.2,1571.2 533.7,1571.2 534.2,1571.1 534.7,1571.1 535.2,1571.1 535.7,1571.1 536.2,1571.0 536.7,1571.0 537.2,1571.1 537.7,1571.1 538.2,1571.1 538.7,1571.2 539.2,1571.2 539.7,1571.3 540.2,1571.4 540.7,1571.5 541.2,1571.5 541.7,1571.6 542.2,1571.7 542.7,1571.8 543.2,1571.9 543.7,1571.9 544.2,1572.0 544.7,1572.0 545.2,1572.0 545.7,1572.0 546.2,1572.0 546.7,1572.0 547.2,1571.9 547.7,1571.8 548.2,1571.8 548.7,1571.6 549.2,1571.5 549.7,1571.4 550.2,1571.3 550.7,1571.2 551.2,1571.0 551.7,1570.9 552.2,1570.8 552.7,1570.7 553.2,1570.6 553.7,1570.6 554.2,1570.5 554.7,1570.5 555.2,1570.5 555.7,1570.6 556.2,1570.6 556.7,1570.7 557.2,1570.8 557.7,1570.9 558.2,1571.0 558.7,1571.2 559.2,1571.3 559.7,1571.5 560.2,1571.6 560.7,1571.8 561.2,1571.9 561.7,1572.0 562.2,1572.1 562.7,1572.2 563.2,1572.2 563.7,1572.3 564.2,1572.3 564.7,1572.2 565.2,1572.2 565.7,1572.1 566.2,1572.0 566.7,1571.9 567.2,1571.8 567.7,1571.7 568.2,1571.5 568.7,1571.4 569.2,1571.2 569.7,1571.1 570.2,1571.0 570.7,1570.9 571.2,1570.8 571.7,1570.7 572.2,1570.7 572.7,1570.6 573.2,1570.6 573.7,1570.5 574.2,1570.5 574.7,1570.5 575.2,1570.5 575.7,1570.4 576.2,1570.4 576.7,1570.3 577.2,1570.3 577.7,1570.2 578.2,1570.0 578.7,1569.9 579.2,1569.8 579.7,1569.6 580.2,1569.5 580.7,1569.3 581.2,1569.2 581.7,1569.0 582.2,1568.9 582.7,1568.8 583.2,1568.8 583.7,1568.8 584.2,1568.8 584.7,1568.8 585.2,1568.8 585.7,1568.9 586.2,1569.0 586.7,1569.1 587.2,1569.2 587.7,1569.3 588.2,1569.5 588.7,1569.6 589.2,1569.8 589.7,1569.9 590.2,1570.1 590.7,1570.2 591.2,1570.4 591.7,1570.6 592.2,1570.8 592.7,1570.9 593.2,1571.1 593.7,1571.3 594.2,1571.5 594.7,1571.6 595.2,1571.8 595.7,1571.9 596.2,1572.0 596.7,1572.1 597.2,1572.2 597.7,1572.2 598.2,1572.2 598.7,1572.1 599.2,1572.0 599.7,1571.9 600.2,1571.7 600.7,1571.4 601.2,1571.2 601.7,1570.9 602.2,1570.6 602.7,1570.2 603.2,1569.8 603.7,1569.4 604.2,1569.0 604.7,1568.6 605.2,1568.2 605.7,1567.8 606.2,1567.4 606.7,1567.0 607.2,1566.7 607.7,1566.4 608.2,1566.2 608.7,1566.0 609.2,1565.8 609.7,1565.8 610.2,1565.8 610.7,1565.8 611.2,1565.9 611.7,1566.1 612.2,1566.3 612.7,1566.5 613.2,1566.8 613.7,1567.0 614.2,1567.4 614.7,1567.7 615.2,1568.0 615.7,1568.3 616.2,1568.6 616.7,1568.8 617.2,1569.1 617.7,1569.3 618.2,1569.5 618.7,1569.7 619.2,1569.9 619.7,1570.0 620.2,1570.2 620.7,1570.3 621.2,1570.4 621.7,1570.5 622.2,1570.6 622.7,1570.7 623.2,1570.8 623.7,1570.9 624.2,1571.0 624.7,1571.2 625.2,1571.3 625.7,1571.4 626.2,1571.5 626.7,1571.7 627.2,1571.8 627.7,1571.9 628.2,1572.0 628.7,1572.1 629.2,1572.2 629.7,1572.2 630.2,1572.3 630.7,1572.3 631.2,1572.3 631.7,1572.2 632.2,1572.2 632.7,1572.1 633.2,1572.0 633.7,1571.9 634.2,1571.8 634.7,1571.7 635.2,1571.5 635.7,1571.4 636.2,1571.2 636.7,1571.1 637.2,1571.0 637.7,1570.9 638.2,1570.8 638.7,1570.7 639.2,1570.6 639.7,1570.6 640.2,1570.6 640.7,1570.6 641.2,1570.6 641.7,1570.7 642.2,1570.7 642.7,1570.8 643.2,1570.9 643.7,1567.6 644.2,1563.6 644.7,1559.5 645.2,1555.4 645.7,1551.3 646.2,1547.2 646.7,1543.0 647.2,1538.9 647.7,1534.8 648.2,1530.6 648.7,1526.4 649.2,1522.2 649.7,1518.0 650.2,1513.8 650.7,1509.6 651.2,1505.4 651.7,1501.1 652.2,1496.9 652.7,1492.6 653.2,1488.4 653.7,1484.2 654.2,1479.9 654.7,1476.6 655.2,1476.6 655.7,1476.5 656.2,1476.6 656.7,1476.6 657.2,1478.4 657.7,1482.9 658.2,1487.5 658.7,1492.0 659.2,1496.5 659.7,1501.1 660.2,1505.6 660.7,1510.1 661.2,1514.7 661.7,1519.2 662.2,1523.7 662.7,1528.2 663.2,1532.7 663.7,1537.2 664.2,1541.6 664.7,1546.1 665.2,1550.5 665.7,1554.9 666.2,1559.3 666.7,1563.6 667.2,1568.0 667.7,1571.5 668.2,1570.4 668.7,1565.5 669.2,1560.6 669.7,1555.7 670.2,1550.9 670.7,1546.0 671.2,1541.1 671.7,1536.3 672.2,1531.5 672.7,1526.7 673.2,1521.9 673.7,1517.1 674.2,1512.3 674.7,1507.6 675.2,1502.9 675.7,1498.2 676.2,1493.5 676.7,1488.8 677.2,1484.1 677.7,1479.4 678.2,1474.7 678.7,1471.9 679.2,1472.0 679.7,1472.1 680.2,1472.2 680.7,1472.2 681.2,1475.1 681.7,1479.9 682.2,1484.6 682.7,1489.4 683.2,1494.1 683.7,1498.8 684.2,1503.5 684.7,1508.2 685.2,1512.9 685.7,1517.6 686.2,1522.3 686.7,1527.0 687.2,1531.7 687.7,1536.4 688.2,1541.1 688.7,1545.8 689.2,1550.5 689.7,1555.2 690.2,1559.9 690.7,1564.6 691.2,1569.2 691.7,1571.4 692.2,1571.3 692.7,1571.2 693.2,1571.1 693.7,1570.9 694.2,1570.6 694.7,1570.3 695.2,1570.0 695.7,1569.7 696.2,1569.3 696.7,1569.0 697.2,1568.7 697.7,1568.4 698.2,1568.2 698.7,1568.1 699.2,1568.1 699.7,1568.1 700.2,1568.2 700.7,1568.4 701.2,1568.7 701.7,1569.0 702.2,1569.3 702.7,1569.6 703.2,1569.8 703.7,1570.1 704.2,1570.4 704.7,1570.6 705.2,1570.8 705.7,1570.9 706.2,1571.1 706.7,1569.1 707.2,1564.2 707.7,1559.3 708.2,1554.4 708.7,1549.4 709.2,1544.5 709.7,1539.5 710.2,1534.5 710.7,1529.5 711.2,1524.5 711.7,1519.4 712.2,1514.4 712.7,1509.3 713.2,1504.2 713.7,1499.1 714.2,1494.0 714.7,1488.9 715.2,1483.7 715.7,1478.6 716.2,1473.5 716.7,1468.4 717.2,1463.3 717.7,1460.2 718.2,1460.1 718.7,1460.1 719.2,1460.1 719.7,1460.1 720.2,1463.2 720.7,1468.4 721.2,1473.6 721.7,1478.8 722.2,1484.0 722.7,1489.3 723.2,1494.5 723.7,1499.8 724.2,1505.0 724.7,1510.3 725.2,1515.5 725.7,1520.8 726.2,1526.0 726.7,1531.2 727.2,1536.3 727.7,1541.5 728.2,1546.6 728.7,1551.7 729.2,1556.7 729.7,1561.7 730.2,1566.7 730.7,1571.4 731.2,1571.2 731.7,1570.9 732.2,1570.6 732.7,1570.3 733.2,1569.9 733.7,1569.5 734.2,1569.1 734.7,1568.7 735.2,1568.3 735.7,1567.9 736.2,1567.5 736.7,1567.1 737.2,1566.7 737.7,1566.4 738.2,1566.2 738.7,1566.0 739.2,1566.0 739.7,1566.0 740.2,1566.1 740.7,1566.3 741.2,1566.6 741.7,1566.9 742.2,1567.3 742.7,1567.8 743.2,1568.3 743.7,1568.8 744.2,1569.3 744.7,1569.7 745.2,1570.1 745.7,1570.5 746.2,1570.8 746.7,1571.1 747.2,1571.2 747.7,1571.4 748.2,1571.4 748.7,1571.4 749.2,1571.3 749.7,1571.2 750.2,1571.0 750.7,1570.9 751.2,1570.7 751.7,1570.4 752.2,1570.2 752.7,1570.0 753.2,1569.8 753.7,1569.6 754.2,1569.5 754.7,1569.3 755.2,1569.2 755.7,1569.0 756.2,1568.9 756.7,1568.8 757.2,1568.8 757.7,1568.7 758.2,1568.6 758.7,1568.6 759.2,1568.6 759.7,1568.6 760.2,1568.5 760.7,1568.5 761.2,1568.5 761.7,1568.5 762.2,1568.5 762.7,1568.5 763.2,1568.6 763.7,1568.6 764.2,1568.6 764.7,1568.6 765.2,1568.6 765.7,1568.7 766.2,1568.7 766.7,1568.7 767.2,1568.8 767.7,1568.8 768.2,1568.8 768.7,1568.9 769.2,1568.9 769.7,1569.0 770.2,1569.0 770.7,1569.1 771.2,1569.2 771.7,1569.3 772.2,1569.4 772.7,1569.5 773.2,1569.7 773.7,1569.8 774.2,1570.0 774.7,1570.2 775.2,1570.4 775.7,1570.6 776.2,1570.8 776.7,1571.0 777.2,1571.2 777.7,1571.4 778.2,1571.6 778.7,1571.8 779.2,1572.0 779.7,1572.1 780.2,1572.2 780.7,1572.3 781.2,1572.4 781.7,1572.4 782.2,1572.4 782.7,1572.4 783.2,1572.3 783.7,1572.3 784.2,1572.2 784.7,1572.1 785.2,1571.9 785.7,1571.8 786.2,1571.7 786.7,1571.5 787.2,1571.4 787.7,1571.2 788.2,1571.1 788.7,1571.0 789.2,1570.9 789.7,1570.9 790.2,1570.8 790.7,1570.8 791.2,1570.8 791.7,1570.8 792.2,1570.8 792.7,1570.8 793.2,1570.9 793.7,1570.9 794.2,1571.0 794.7,1571.1 795.2,1571.2 795.7,1571.3 796.2,1571.4 796.7,1571.4 797.2,1569.8 797.7,1565.0 798.2,1560.3 798.7,1555.5 799.2,1550.7 799.7,1545.9 800.2,1541.1 800.7,1536.3 801.2,1531.5 801.7,1526.7 802.2,1521.8 802.7,1517.0 803.2,1512.1 803.7,1507.2 804.2,1502.4 804.7,1497.5 805.2,1492.6 805.7,1487.8 806.2,1482.9 806.7,1478.0 807.2,1473.1 807.7,1468.3 808.2,1466.3 808.7,1466.3 809.2,1466.3 809.7,1466.2 810.2,1466.2 810.7,1470.1 811.2,1475.1 811.7,1480.0 812.2,1484.9 812.7,1489.9 813.2,1494.8 813.7,1499.8 814.2,1504.7 814.7,1509.7 815.2,1514.7 815.7,1519.7 816.2,1524.7 816.7,1529.7 817.2,1534.7 817.7,1539.7 818.2,1544.7 818.7,1549.7 819.2,1554.7 819.7,1559.7 820.2,1564.6 820.7,1569.6 821.2,1572.1 821.7,1572.2 822.2,1572.2 822.7,1572.2 823.2,1572.2 823.7,1572.2 824.2,1567.6 824.7,1561.3 825.2,1555.0 825.7,1548.8 826.2,1542.5 826.7,1536.2 827.2,1529.8 827.7,1523.5 828.2,1517.2 828.7,1510.8 829.2,1504.5 829.7,1498.1 830.2,1491.8 830.7,1485.5 831.2,1479.2 831.7,1472.9 832.2,1466.7 832.7,1460.5 833.2,1454.3 833.7,1451.8 834.2,1451.9 834.7,1452.0 835.2,1452.1 835.7,1452.2 836.2,1457.3 836.7,1463.7 837.2,1470.1 837.7,1476.4 838.2,1482.8 838.7,1489.2 839.2,1495.6 839.7,1502.0 840.2,1508.4 840.7,1514.7 841.2,1521.0 841.7,1527.3 842.2,1533.6 842.7,1539.8 843.2,1546.0 843.7,1552.1 844.2,1558.2 844.7,1564.3 845.2,1570.3 845.7,1572.3 846.2,1572.1 846.7,1571.9 847.2,1571.7 847.7,1571.5 848.2,1571.2 848.7,1571.0 849.2,1570.8 849.7,1570.7 850.2,1570.5 850.7,1570.4 851.2,1570.3 851.7,1570.3 852.2,1570.3 852.7,1570.3 853.2,1570.4 853.7,1570.5 854.2,1570.6 854.7,1570.8 855.2,1570.9 855.7,1571.1 856.2,1571.3 856.7,1571.5 857.2,1571.7 857.7,1571.9 858.2,1572.1 858.7,1572.2 859.2,1572.3 859.7,1572.4 860.2,1572.4 860.7,1572.4 861.2,1572.4 861.7,1572.3 862.2,1572.2 862.7,1572.1 863.2,1571.9 863.7,1571.7 864.2,1569.5 864.7,1564.2 865.2,1558.9 865.7,1553.5 866.2,1548.2 866.7,1543.0 867.2,1537.7 867.7,1532.5" fill="none" stroke="#EC3323" stroke-width="4.0" stroke-linejoin="round"/>
</svg>
</body></html>
